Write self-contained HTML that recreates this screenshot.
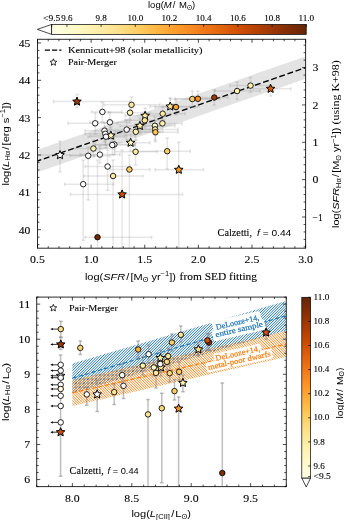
<!DOCTYPE html>
<html><head><meta charset="utf-8"><title>figure</title>
<style>html,body{margin:0;padding:0;background:#fff;} svg{display:block;will-change:transform;}</style>
</head><body>
<svg width="344" height="520" viewBox="0 0 344 520">
<defs>
<linearGradient id="cbh" x1="0" y1="0" x2="1" y2="0"><stop offset="0.000" stop-color="#ffffe5"/><stop offset="0.050" stop-color="#fffcd6"/><stop offset="0.100" stop-color="#fff9c5"/><stop offset="0.150" stop-color="#fff3b4"/><stop offset="0.200" stop-color="#feeba2"/><stop offset="0.250" stop-color="#fee390"/><stop offset="0.300" stop-color="#fed778"/><stop offset="0.350" stop-color="#feca5d"/><stop offset="0.400" stop-color="#febb47"/><stop offset="0.450" stop-color="#feaa38"/><stop offset="0.500" stop-color="#fe9829"/><stop offset="0.550" stop-color="#f78921"/><stop offset="0.600" stop-color="#f07818"/><stop offset="0.650" stop-color="#e56910"/><stop offset="0.700" stop-color="#d85a09"/><stop offset="0.750" stop-color="#cb4b02"/><stop offset="0.800" stop-color="#b84203"/><stop offset="0.850" stop-color="#a33904"/><stop offset="0.900" stop-color="#8e3104"/><stop offset="0.950" stop-color="#792b05"/><stop offset="1.000" stop-color="#662506"/></linearGradient>
<linearGradient id="cbv" x1="0" y1="1" x2="0" y2="0"><stop offset="0.000" stop-color="#ffffe5"/><stop offset="0.050" stop-color="#fffcd6"/><stop offset="0.100" stop-color="#fff9c5"/><stop offset="0.150" stop-color="#fff3b4"/><stop offset="0.200" stop-color="#feeba2"/><stop offset="0.250" stop-color="#fee390"/><stop offset="0.300" stop-color="#fed778"/><stop offset="0.350" stop-color="#feca5d"/><stop offset="0.400" stop-color="#febb47"/><stop offset="0.450" stop-color="#feaa38"/><stop offset="0.500" stop-color="#fe9829"/><stop offset="0.550" stop-color="#f78921"/><stop offset="0.600" stop-color="#f07818"/><stop offset="0.650" stop-color="#e56910"/><stop offset="0.700" stop-color="#d85a09"/><stop offset="0.750" stop-color="#cb4b02"/><stop offset="0.800" stop-color="#b84203"/><stop offset="0.850" stop-color="#a33904"/><stop offset="0.900" stop-color="#8e3104"/><stop offset="0.950" stop-color="#792b05"/><stop offset="1.000" stop-color="#662506"/></linearGradient>
<pattern id="hb" patternUnits="userSpaceOnUse" width="1.45" height="1.45" patternTransform="rotate(45)"><rect x="0" y="0" width="0.6" height="1.45" fill="#1f77b4"/></pattern>
<pattern id="ho" patternUnits="userSpaceOnUse" width="1.45" height="1.45" patternTransform="rotate(45)"><rect x="0" y="0" width="0.6" height="1.45" fill="#ff7f0e"/></pattern>
<clipPath id="ctop"><rect x="37.5" y="39.3" width="268.1" height="208.89999999999998"/></clipPath>
<clipPath id="cbot"><rect x="36.7" y="297.1" width="249.60000000000002" height="189.5"/></clipPath>
</defs>
<rect width="344" height="520" fill="#fff"/>
<path d="M51.7,24.4 L51.7,34.4 L37.3,29.4Z" fill="#fff" stroke="#000" stroke-width="0.7"/>
<rect x="51.7" y="24.4" width="254.5" height="10.0" fill="url(#cbh)" stroke="#000" stroke-width="0.7"/>
<line x1="51.70" y1="24.40" x2="51.70" y2="26.90" stroke="#000" stroke-width="0.7" />
<text x="51.70" y="21.00" font-size="7.8" font-family='"Liberation Serif", serif' text-anchor="middle" fill="#000" stroke="#000" stroke-width="0.1" textLength="17.24" lengthAdjust="spacingAndGlyphs" >&lt;9.5</text>
<line x1="66.90" y1="24.40" x2="66.90" y2="26.90" stroke="#000" stroke-width="0.7" />
<text x="66.90" y="21.00" font-size="7.8" font-family='"Liberation Serif", serif' text-anchor="middle" fill="#000" stroke="#000" stroke-width="0.1" textLength="11.29" lengthAdjust="spacingAndGlyphs" >9.6</text>
<line x1="101.10" y1="24.40" x2="101.10" y2="26.90" stroke="#000" stroke-width="0.7" />
<text x="101.10" y="21.00" font-size="7.8" font-family='"Liberation Serif", serif' text-anchor="middle" fill="#000" stroke="#000" stroke-width="0.1" textLength="11.29" lengthAdjust="spacingAndGlyphs" >9.8</text>
<line x1="135.30" y1="24.40" x2="135.30" y2="26.90" stroke="#000" stroke-width="0.7" />
<text x="135.30" y="21.00" font-size="7.8" font-family='"Liberation Serif", serif' text-anchor="middle" fill="#000" stroke="#000" stroke-width="0.1" textLength="15.8" lengthAdjust="spacingAndGlyphs" >10.0</text>
<line x1="169.50" y1="24.40" x2="169.50" y2="26.90" stroke="#000" stroke-width="0.7" />
<text x="169.50" y="21.00" font-size="7.8" font-family='"Liberation Serif", serif' text-anchor="middle" fill="#000" stroke="#000" stroke-width="0.1" textLength="15.8" lengthAdjust="spacingAndGlyphs" >10.2</text>
<line x1="203.70" y1="24.40" x2="203.70" y2="26.90" stroke="#000" stroke-width="0.7" />
<text x="203.70" y="21.00" font-size="7.8" font-family='"Liberation Serif", serif' text-anchor="middle" fill="#000" stroke="#000" stroke-width="0.1" textLength="15.8" lengthAdjust="spacingAndGlyphs" >10.4</text>
<line x1="237.90" y1="24.40" x2="237.90" y2="26.90" stroke="#000" stroke-width="0.7" />
<text x="237.90" y="21.00" font-size="7.8" font-family='"Liberation Serif", serif' text-anchor="middle" fill="#000" stroke="#000" stroke-width="0.1" textLength="15.8" lengthAdjust="spacingAndGlyphs" >10.6</text>
<line x1="272.10" y1="24.40" x2="272.10" y2="26.90" stroke="#000" stroke-width="0.7" />
<text x="272.10" y="21.00" font-size="7.8" font-family='"Liberation Serif", serif' text-anchor="middle" fill="#000" stroke="#000" stroke-width="0.1" textLength="15.8" lengthAdjust="spacingAndGlyphs" >10.8</text>
<line x1="306.30" y1="24.40" x2="306.30" y2="26.90" stroke="#000" stroke-width="0.7" />
<text x="306.30" y="21.00" font-size="7.8" font-family='"Liberation Serif", serif' text-anchor="middle" fill="#000" stroke="#000" stroke-width="0.1" textLength="15.8" lengthAdjust="spacingAndGlyphs" >11.0</text>
<text x="171.6" y="7.9" font-size="9.4" font-family='"Liberation Sans", sans-serif' text-anchor="middle" textLength="47.2" lengthAdjust="spacingAndGlyphs"><tspan>log(</tspan><tspan font-style="italic">M</tspan><tspan dx="1.0">/</tspan><tspan dx="1.0"> M</tspan><tspan dy="1.90" font-size="6.4">ʘ</tspan><tspan dy="-1.90">)</tspan></text>
<g clip-path="url(#ctop)">
<path d="M37.50,149.77 L305.60,56.40 L305.60,78.81 L37.50,172.18Z" fill="#e3e3e3"/>
<line x1="37.50" y1="160.98" x2="305.60" y2="67.60" stroke="#000" stroke-width="1.4" stroke-dasharray="5.9,2.7" stroke-dashoffset="1.93"/>
<line x1="53.50" y1="101.60" x2="130.00" y2="101.60" stroke="#808080" stroke-opacity="0.2" stroke-width="1.5"/>
<line x1="53.50" y1="99.80" x2="53.50" y2="103.40" stroke="#808080" stroke-opacity="0.2" stroke-width="1.5"/>
<line x1="130.00" y1="99.80" x2="130.00" y2="103.40" stroke="#808080" stroke-opacity="0.2" stroke-width="1.5"/>
<line x1="77.00" y1="94.40" x2="77.00" y2="107.40" stroke="#808080" stroke-opacity="0.2" stroke-width="1.5"/>
<line x1="75.20" y1="94.40" x2="78.80" y2="94.40" stroke="#808080" stroke-opacity="0.2" stroke-width="1.5"/>
<line x1="75.20" y1="107.40" x2="78.80" y2="107.40" stroke="#808080" stroke-opacity="0.2" stroke-width="1.5"/>
<line x1="91.50" y1="111.90" x2="122.00" y2="111.90" stroke="#808080" stroke-opacity="0.2" stroke-width="1.5"/>
<line x1="91.50" y1="110.10" x2="91.50" y2="113.70" stroke="#808080" stroke-opacity="0.2" stroke-width="1.5"/>
<line x1="122.00" y1="110.10" x2="122.00" y2="113.70" stroke="#808080" stroke-opacity="0.2" stroke-width="1.5"/>
<line x1="102.40" y1="102.00" x2="102.40" y2="122.00" stroke="#808080" stroke-opacity="0.2" stroke-width="1.5"/>
<line x1="100.60" y1="102.00" x2="104.20" y2="102.00" stroke="#808080" stroke-opacity="0.2" stroke-width="1.5"/>
<line x1="100.60" y1="122.00" x2="104.20" y2="122.00" stroke="#808080" stroke-opacity="0.2" stroke-width="1.5"/>
<line x1="103.80" y1="104.80" x2="160.00" y2="104.80" stroke="#808080" stroke-opacity="0.2" stroke-width="1.5"/>
<line x1="103.80" y1="103.00" x2="103.80" y2="106.60" stroke="#808080" stroke-opacity="0.2" stroke-width="1.5"/>
<line x1="160.00" y1="103.00" x2="160.00" y2="106.60" stroke="#808080" stroke-opacity="0.2" stroke-width="1.5"/>
<line x1="131.50" y1="97.00" x2="131.50" y2="112.00" stroke="#808080" stroke-opacity="0.2" stroke-width="1.5"/>
<line x1="129.70" y1="97.00" x2="133.30" y2="97.00" stroke="#808080" stroke-opacity="0.2" stroke-width="1.5"/>
<line x1="129.70" y1="112.00" x2="133.30" y2="112.00" stroke="#808080" stroke-opacity="0.2" stroke-width="1.5"/>
<line x1="108.00" y1="112.70" x2="150.00" y2="112.70" stroke="#808080" stroke-opacity="0.2" stroke-width="1.5"/>
<line x1="108.00" y1="110.90" x2="108.00" y2="114.50" stroke="#808080" stroke-opacity="0.2" stroke-width="1.5"/>
<line x1="150.00" y1="110.90" x2="150.00" y2="114.50" stroke="#808080" stroke-opacity="0.2" stroke-width="1.5"/>
<line x1="130.00" y1="105.00" x2="130.00" y2="120.00" stroke="#808080" stroke-opacity="0.2" stroke-width="1.5"/>
<line x1="128.20" y1="105.00" x2="131.80" y2="105.00" stroke="#808080" stroke-opacity="0.2" stroke-width="1.5"/>
<line x1="128.20" y1="120.00" x2="131.80" y2="120.00" stroke="#808080" stroke-opacity="0.2" stroke-width="1.5"/>
<line x1="68.00" y1="123.30" x2="118.00" y2="123.30" stroke="#808080" stroke-opacity="0.2" stroke-width="1.5"/>
<line x1="68.00" y1="121.50" x2="68.00" y2="125.10" stroke="#808080" stroke-opacity="0.2" stroke-width="1.5"/>
<line x1="118.00" y1="121.50" x2="118.00" y2="125.10" stroke="#808080" stroke-opacity="0.2" stroke-width="1.5"/>
<line x1="95.20" y1="113.00" x2="95.20" y2="134.00" stroke="#808080" stroke-opacity="0.2" stroke-width="1.5"/>
<line x1="93.40" y1="113.00" x2="97.00" y2="113.00" stroke="#808080" stroke-opacity="0.2" stroke-width="1.5"/>
<line x1="93.40" y1="134.00" x2="97.00" y2="134.00" stroke="#808080" stroke-opacity="0.2" stroke-width="1.5"/>
<line x1="90.00" y1="122.30" x2="130.00" y2="122.30" stroke="#808080" stroke-opacity="0.2" stroke-width="1.5"/>
<line x1="90.00" y1="120.50" x2="90.00" y2="124.10" stroke="#808080" stroke-opacity="0.2" stroke-width="1.5"/>
<line x1="130.00" y1="120.50" x2="130.00" y2="124.10" stroke="#808080" stroke-opacity="0.2" stroke-width="1.5"/>
<line x1="109.90" y1="112.00" x2="109.90" y2="133.00" stroke="#808080" stroke-opacity="0.2" stroke-width="1.5"/>
<line x1="108.10" y1="112.00" x2="111.70" y2="112.00" stroke="#808080" stroke-opacity="0.2" stroke-width="1.5"/>
<line x1="108.10" y1="133.00" x2="111.70" y2="133.00" stroke="#808080" stroke-opacity="0.2" stroke-width="1.5"/>
<line x1="105.00" y1="129.60" x2="150.00" y2="129.60" stroke="#808080" stroke-opacity="0.2" stroke-width="1.5"/>
<line x1="105.00" y1="127.80" x2="105.00" y2="131.40" stroke="#808080" stroke-opacity="0.2" stroke-width="1.5"/>
<line x1="150.00" y1="127.80" x2="150.00" y2="131.40" stroke="#808080" stroke-opacity="0.2" stroke-width="1.5"/>
<line x1="126.70" y1="120.00" x2="126.70" y2="140.00" stroke="#808080" stroke-opacity="0.2" stroke-width="1.5"/>
<line x1="124.90" y1="120.00" x2="128.50" y2="120.00" stroke="#808080" stroke-opacity="0.2" stroke-width="1.5"/>
<line x1="124.90" y1="140.00" x2="128.50" y2="140.00" stroke="#808080" stroke-opacity="0.2" stroke-width="1.5"/>
<line x1="125.00" y1="120.30" x2="165.00" y2="120.30" stroke="#808080" stroke-opacity="0.2" stroke-width="1.5"/>
<line x1="125.00" y1="118.50" x2="125.00" y2="122.10" stroke="#808080" stroke-opacity="0.2" stroke-width="1.5"/>
<line x1="165.00" y1="118.50" x2="165.00" y2="122.10" stroke="#808080" stroke-opacity="0.2" stroke-width="1.5"/>
<line x1="144.80" y1="112.00" x2="144.80" y2="128.00" stroke="#808080" stroke-opacity="0.2" stroke-width="1.5"/>
<line x1="143.00" y1="112.00" x2="146.60" y2="112.00" stroke="#808080" stroke-opacity="0.2" stroke-width="1.5"/>
<line x1="143.00" y1="128.00" x2="146.60" y2="128.00" stroke="#808080" stroke-opacity="0.2" stroke-width="1.5"/>
<line x1="125.00" y1="115.80" x2="165.00" y2="115.80" stroke="#808080" stroke-opacity="0.2" stroke-width="1.5"/>
<line x1="125.00" y1="114.00" x2="125.00" y2="117.60" stroke="#808080" stroke-opacity="0.2" stroke-width="1.5"/>
<line x1="165.00" y1="114.00" x2="165.00" y2="117.60" stroke="#808080" stroke-opacity="0.2" stroke-width="1.5"/>
<line x1="145.10" y1="108.00" x2="145.10" y2="124.00" stroke="#808080" stroke-opacity="0.2" stroke-width="1.5"/>
<line x1="143.30" y1="108.00" x2="146.90" y2="108.00" stroke="#808080" stroke-opacity="0.2" stroke-width="1.5"/>
<line x1="143.30" y1="124.00" x2="146.90" y2="124.00" stroke="#808080" stroke-opacity="0.2" stroke-width="1.5"/>
<line x1="115.00" y1="131.80" x2="160.00" y2="131.80" stroke="#808080" stroke-opacity="0.2" stroke-width="1.5"/>
<line x1="115.00" y1="130.00" x2="115.00" y2="133.60" stroke="#808080" stroke-opacity="0.2" stroke-width="1.5"/>
<line x1="160.00" y1="130.00" x2="160.00" y2="133.60" stroke="#808080" stroke-opacity="0.2" stroke-width="1.5"/>
<line x1="135.80" y1="124.00" x2="135.80" y2="140.00" stroke="#808080" stroke-opacity="0.2" stroke-width="1.5"/>
<line x1="134.00" y1="124.00" x2="137.60" y2="124.00" stroke="#808080" stroke-opacity="0.2" stroke-width="1.5"/>
<line x1="134.00" y1="140.00" x2="137.60" y2="140.00" stroke="#808080" stroke-opacity="0.2" stroke-width="1.5"/>
<line x1="120.00" y1="125.90" x2="160.00" y2="125.90" stroke="#808080" stroke-opacity="0.2" stroke-width="1.5"/>
<line x1="120.00" y1="124.10" x2="120.00" y2="127.70" stroke="#808080" stroke-opacity="0.2" stroke-width="1.5"/>
<line x1="160.00" y1="124.10" x2="160.00" y2="127.70" stroke="#808080" stroke-opacity="0.2" stroke-width="1.5"/>
<line x1="139.90" y1="118.00" x2="139.90" y2="134.00" stroke="#808080" stroke-opacity="0.2" stroke-width="1.5"/>
<line x1="138.10" y1="118.00" x2="141.70" y2="118.00" stroke="#808080" stroke-opacity="0.2" stroke-width="1.5"/>
<line x1="138.10" y1="134.00" x2="141.70" y2="134.00" stroke="#808080" stroke-opacity="0.2" stroke-width="1.5"/>
<line x1="85.00" y1="130.70" x2="125.00" y2="130.70" stroke="#808080" stroke-opacity="0.2" stroke-width="1.5"/>
<line x1="85.00" y1="128.90" x2="85.00" y2="132.50" stroke="#808080" stroke-opacity="0.2" stroke-width="1.5"/>
<line x1="125.00" y1="128.90" x2="125.00" y2="132.50" stroke="#808080" stroke-opacity="0.2" stroke-width="1.5"/>
<line x1="104.50" y1="123.00" x2="104.50" y2="142.00" stroke="#808080" stroke-opacity="0.2" stroke-width="1.5"/>
<line x1="102.70" y1="123.00" x2="106.30" y2="123.00" stroke="#808080" stroke-opacity="0.2" stroke-width="1.5"/>
<line x1="102.70" y1="142.00" x2="106.30" y2="142.00" stroke="#808080" stroke-opacity="0.2" stroke-width="1.5"/>
<line x1="85.00" y1="133.80" x2="125.00" y2="133.80" stroke="#808080" stroke-opacity="0.2" stroke-width="1.5"/>
<line x1="85.00" y1="132.00" x2="85.00" y2="135.60" stroke="#808080" stroke-opacity="0.2" stroke-width="1.5"/>
<line x1="125.00" y1="132.00" x2="125.00" y2="135.60" stroke="#808080" stroke-opacity="0.2" stroke-width="1.5"/>
<line x1="105.30" y1="126.00" x2="105.30" y2="145.00" stroke="#808080" stroke-opacity="0.2" stroke-width="1.5"/>
<line x1="103.50" y1="126.00" x2="107.10" y2="126.00" stroke="#808080" stroke-opacity="0.2" stroke-width="1.5"/>
<line x1="103.50" y1="145.00" x2="107.10" y2="145.00" stroke="#808080" stroke-opacity="0.2" stroke-width="1.5"/>
<line x1="88.00" y1="136.70" x2="125.00" y2="136.70" stroke="#808080" stroke-opacity="0.2" stroke-width="1.5"/>
<line x1="88.00" y1="134.90" x2="88.00" y2="138.50" stroke="#808080" stroke-opacity="0.2" stroke-width="1.5"/>
<line x1="125.00" y1="134.90" x2="125.00" y2="138.50" stroke="#808080" stroke-opacity="0.2" stroke-width="1.5"/>
<line x1="106.00" y1="129.00" x2="106.00" y2="148.00" stroke="#808080" stroke-opacity="0.2" stroke-width="1.5"/>
<line x1="104.20" y1="129.00" x2="107.80" y2="129.00" stroke="#808080" stroke-opacity="0.2" stroke-width="1.5"/>
<line x1="104.20" y1="148.00" x2="107.80" y2="148.00" stroke="#808080" stroke-opacity="0.2" stroke-width="1.5"/>
<line x1="90.00" y1="135.60" x2="135.00" y2="135.60" stroke="#808080" stroke-opacity="0.2" stroke-width="1.5"/>
<line x1="90.00" y1="133.80" x2="90.00" y2="137.40" stroke="#808080" stroke-opacity="0.2" stroke-width="1.5"/>
<line x1="135.00" y1="133.80" x2="135.00" y2="137.40" stroke="#808080" stroke-opacity="0.2" stroke-width="1.5"/>
<line x1="110.90" y1="127.00" x2="110.90" y2="143.00" stroke="#808080" stroke-opacity="0.2" stroke-width="1.5"/>
<line x1="109.10" y1="127.00" x2="112.70" y2="127.00" stroke="#808080" stroke-opacity="0.2" stroke-width="1.5"/>
<line x1="109.10" y1="143.00" x2="112.70" y2="143.00" stroke="#808080" stroke-opacity="0.2" stroke-width="1.5"/>
<line x1="95.00" y1="144.50" x2="135.00" y2="144.50" stroke="#808080" stroke-opacity="0.2" stroke-width="1.5"/>
<line x1="95.00" y1="142.70" x2="95.00" y2="146.30" stroke="#808080" stroke-opacity="0.2" stroke-width="1.5"/>
<line x1="135.00" y1="142.70" x2="135.00" y2="146.30" stroke="#808080" stroke-opacity="0.2" stroke-width="1.5"/>
<line x1="114.30" y1="136.00" x2="114.30" y2="155.00" stroke="#808080" stroke-opacity="0.2" stroke-width="1.5"/>
<line x1="112.50" y1="136.00" x2="116.10" y2="136.00" stroke="#808080" stroke-opacity="0.2" stroke-width="1.5"/>
<line x1="112.50" y1="155.00" x2="116.10" y2="155.00" stroke="#808080" stroke-opacity="0.2" stroke-width="1.5"/>
<line x1="95.00" y1="145.00" x2="135.00" y2="145.00" stroke="#808080" stroke-opacity="0.2" stroke-width="1.5"/>
<line x1="95.00" y1="143.20" x2="95.00" y2="146.80" stroke="#808080" stroke-opacity="0.2" stroke-width="1.5"/>
<line x1="135.00" y1="143.20" x2="135.00" y2="146.80" stroke="#808080" stroke-opacity="0.2" stroke-width="1.5"/>
<line x1="112.30" y1="136.00" x2="112.30" y2="155.00" stroke="#808080" stroke-opacity="0.2" stroke-width="1.5"/>
<line x1="110.50" y1="136.00" x2="114.10" y2="136.00" stroke="#808080" stroke-opacity="0.2" stroke-width="1.5"/>
<line x1="110.50" y1="155.00" x2="114.10" y2="155.00" stroke="#808080" stroke-opacity="0.2" stroke-width="1.5"/>
<line x1="110.00" y1="142.80" x2="150.00" y2="142.80" stroke="#808080" stroke-opacity="0.2" stroke-width="1.5"/>
<line x1="110.00" y1="141.00" x2="110.00" y2="144.60" stroke="#808080" stroke-opacity="0.2" stroke-width="1.5"/>
<line x1="150.00" y1="141.00" x2="150.00" y2="144.60" stroke="#808080" stroke-opacity="0.2" stroke-width="1.5"/>
<line x1="130.60" y1="134.00" x2="130.60" y2="151.00" stroke="#808080" stroke-opacity="0.2" stroke-width="1.5"/>
<line x1="128.80" y1="134.00" x2="132.40" y2="134.00" stroke="#808080" stroke-opacity="0.2" stroke-width="1.5"/>
<line x1="128.80" y1="151.00" x2="132.40" y2="151.00" stroke="#808080" stroke-opacity="0.2" stroke-width="1.5"/>
<line x1="75.00" y1="148.50" x2="115.00" y2="148.50" stroke="#808080" stroke-opacity="0.2" stroke-width="1.5"/>
<line x1="75.00" y1="146.70" x2="75.00" y2="150.30" stroke="#808080" stroke-opacity="0.2" stroke-width="1.5"/>
<line x1="115.00" y1="146.70" x2="115.00" y2="150.30" stroke="#808080" stroke-opacity="0.2" stroke-width="1.5"/>
<line x1="93.40" y1="140.00" x2="93.40" y2="157.00" stroke="#808080" stroke-opacity="0.2" stroke-width="1.5"/>
<line x1="91.60" y1="140.00" x2="95.20" y2="140.00" stroke="#808080" stroke-opacity="0.2" stroke-width="1.5"/>
<line x1="91.60" y1="157.00" x2="95.20" y2="157.00" stroke="#808080" stroke-opacity="0.2" stroke-width="1.5"/>
<line x1="20.00" y1="155.10" x2="95.00" y2="155.10" stroke="#808080" stroke-opacity="0.2" stroke-width="1.5"/>
<line x1="20.00" y1="153.30" x2="20.00" y2="156.90" stroke="#808080" stroke-opacity="0.2" stroke-width="1.5"/>
<line x1="95.00" y1="153.30" x2="95.00" y2="156.90" stroke="#808080" stroke-opacity="0.2" stroke-width="1.5"/>
<line x1="60.00" y1="141.20" x2="60.00" y2="171.90" stroke="#808080" stroke-opacity="0.2" stroke-width="1.5"/>
<line x1="58.20" y1="141.20" x2="61.80" y2="141.20" stroke="#808080" stroke-opacity="0.2" stroke-width="1.5"/>
<line x1="58.20" y1="171.90" x2="61.80" y2="171.90" stroke="#808080" stroke-opacity="0.2" stroke-width="1.5"/>
<line x1="70.00" y1="155.80" x2="110.00" y2="155.80" stroke="#808080" stroke-opacity="0.2" stroke-width="1.5"/>
<line x1="70.00" y1="154.00" x2="70.00" y2="157.60" stroke="#808080" stroke-opacity="0.2" stroke-width="1.5"/>
<line x1="110.00" y1="154.00" x2="110.00" y2="157.60" stroke="#808080" stroke-opacity="0.2" stroke-width="1.5"/>
<line x1="88.20" y1="147.00" x2="88.20" y2="200.00" stroke="#808080" stroke-opacity="0.2" stroke-width="1.5"/>
<line x1="86.40" y1="147.00" x2="90.00" y2="147.00" stroke="#808080" stroke-opacity="0.2" stroke-width="1.5"/>
<line x1="86.40" y1="200.00" x2="90.00" y2="200.00" stroke="#808080" stroke-opacity="0.2" stroke-width="1.5"/>
<line x1="80.00" y1="154.60" x2="120.00" y2="154.60" stroke="#808080" stroke-opacity="0.2" stroke-width="1.5"/>
<line x1="80.00" y1="152.80" x2="80.00" y2="156.40" stroke="#808080" stroke-opacity="0.2" stroke-width="1.5"/>
<line x1="120.00" y1="152.80" x2="120.00" y2="156.40" stroke="#808080" stroke-opacity="0.2" stroke-width="1.5"/>
<line x1="99.90" y1="146.00" x2="99.90" y2="163.00" stroke="#808080" stroke-opacity="0.2" stroke-width="1.5"/>
<line x1="98.10" y1="146.00" x2="101.70" y2="146.00" stroke="#808080" stroke-opacity="0.2" stroke-width="1.5"/>
<line x1="98.10" y1="163.00" x2="101.70" y2="163.00" stroke="#808080" stroke-opacity="0.2" stroke-width="1.5"/>
<line x1="115.00" y1="151.80" x2="157.00" y2="151.80" stroke="#808080" stroke-opacity="0.2" stroke-width="1.5"/>
<line x1="115.00" y1="150.00" x2="115.00" y2="153.60" stroke="#808080" stroke-opacity="0.2" stroke-width="1.5"/>
<line x1="157.00" y1="150.00" x2="157.00" y2="153.60" stroke="#808080" stroke-opacity="0.2" stroke-width="1.5"/>
<line x1="135.60" y1="140.00" x2="135.60" y2="165.00" stroke="#808080" stroke-opacity="0.2" stroke-width="1.5"/>
<line x1="133.80" y1="140.00" x2="137.40" y2="140.00" stroke="#808080" stroke-opacity="0.2" stroke-width="1.5"/>
<line x1="133.80" y1="165.00" x2="137.40" y2="165.00" stroke="#808080" stroke-opacity="0.2" stroke-width="1.5"/>
<line x1="85.00" y1="166.50" x2="130.00" y2="166.50" stroke="#808080" stroke-opacity="0.2" stroke-width="1.5"/>
<line x1="85.00" y1="164.70" x2="85.00" y2="168.30" stroke="#808080" stroke-opacity="0.2" stroke-width="1.5"/>
<line x1="130.00" y1="164.70" x2="130.00" y2="168.30" stroke="#808080" stroke-opacity="0.2" stroke-width="1.5"/>
<line x1="107.60" y1="150.00" x2="107.60" y2="190.20" stroke="#808080" stroke-opacity="0.2" stroke-width="1.5"/>
<line x1="105.80" y1="150.00" x2="109.40" y2="150.00" stroke="#808080" stroke-opacity="0.2" stroke-width="1.5"/>
<line x1="105.80" y1="190.20" x2="109.40" y2="190.20" stroke="#808080" stroke-opacity="0.2" stroke-width="1.5"/>
<line x1="84.00" y1="176.00" x2="143.00" y2="176.00" stroke="#808080" stroke-opacity="0.2" stroke-width="1.5"/>
<line x1="84.00" y1="174.20" x2="84.00" y2="177.80" stroke="#808080" stroke-opacity="0.2" stroke-width="1.5"/>
<line x1="143.00" y1="174.20" x2="143.00" y2="177.80" stroke="#808080" stroke-opacity="0.2" stroke-width="1.5"/>
<line x1="113.10" y1="160.00" x2="113.10" y2="250.00" stroke="#808080" stroke-opacity="0.2" stroke-width="1.5"/>
<line x1="111.30" y1="160.00" x2="114.90" y2="160.00" stroke="#808080" stroke-opacity="0.2" stroke-width="1.5"/>
<line x1="111.30" y1="250.00" x2="114.90" y2="250.00" stroke="#808080" stroke-opacity="0.2" stroke-width="1.5"/>
<line x1="64.70" y1="184.20" x2="113.50" y2="184.20" stroke="#808080" stroke-opacity="0.2" stroke-width="1.5"/>
<line x1="64.70" y1="182.40" x2="64.70" y2="186.00" stroke="#808080" stroke-opacity="0.2" stroke-width="1.5"/>
<line x1="113.50" y1="182.40" x2="113.50" y2="186.00" stroke="#808080" stroke-opacity="0.2" stroke-width="1.5"/>
<line x1="83.20" y1="160.00" x2="83.20" y2="240.20" stroke="#808080" stroke-opacity="0.2" stroke-width="1.5"/>
<line x1="81.40" y1="160.00" x2="85.00" y2="160.00" stroke="#808080" stroke-opacity="0.2" stroke-width="1.5"/>
<line x1="81.40" y1="240.20" x2="85.00" y2="240.20" stroke="#808080" stroke-opacity="0.2" stroke-width="1.5"/>
<line x1="110.00" y1="169.50" x2="150.00" y2="169.50" stroke="#808080" stroke-opacity="0.2" stroke-width="1.5"/>
<line x1="110.00" y1="167.70" x2="110.00" y2="171.30" stroke="#808080" stroke-opacity="0.2" stroke-width="1.5"/>
<line x1="150.00" y1="167.70" x2="150.00" y2="171.30" stroke="#808080" stroke-opacity="0.2" stroke-width="1.5"/>
<line x1="129.40" y1="155.00" x2="129.40" y2="250.00" stroke="#808080" stroke-opacity="0.2" stroke-width="1.5"/>
<line x1="127.60" y1="155.00" x2="131.20" y2="155.00" stroke="#808080" stroke-opacity="0.2" stroke-width="1.5"/>
<line x1="127.60" y1="250.00" x2="131.20" y2="250.00" stroke="#808080" stroke-opacity="0.2" stroke-width="1.5"/>
<line x1="70.40" y1="194.40" x2="182.50" y2="194.40" stroke="#808080" stroke-opacity="0.2" stroke-width="1.5"/>
<line x1="70.40" y1="192.60" x2="70.40" y2="196.20" stroke="#808080" stroke-opacity="0.2" stroke-width="1.5"/>
<line x1="182.50" y1="192.60" x2="182.50" y2="196.20" stroke="#808080" stroke-opacity="0.2" stroke-width="1.5"/>
<line x1="122.10" y1="150.00" x2="122.10" y2="250.00" stroke="#808080" stroke-opacity="0.2" stroke-width="1.5"/>
<line x1="120.30" y1="150.00" x2="123.90" y2="150.00" stroke="#808080" stroke-opacity="0.2" stroke-width="1.5"/>
<line x1="120.30" y1="250.00" x2="123.90" y2="250.00" stroke="#808080" stroke-opacity="0.2" stroke-width="1.5"/>
<line x1="85.00" y1="237.20" x2="151.60" y2="237.20" stroke="#808080" stroke-opacity="0.2" stroke-width="1.5"/>
<line x1="85.00" y1="235.40" x2="85.00" y2="239.00" stroke="#808080" stroke-opacity="0.2" stroke-width="1.5"/>
<line x1="151.60" y1="235.40" x2="151.60" y2="239.00" stroke="#808080" stroke-opacity="0.2" stroke-width="1.5"/>
<line x1="97.50" y1="160.00" x2="97.50" y2="250.00" stroke="#808080" stroke-opacity="0.2" stroke-width="1.5"/>
<line x1="95.70" y1="160.00" x2="99.30" y2="160.00" stroke="#808080" stroke-opacity="0.2" stroke-width="1.5"/>
<line x1="95.70" y1="250.00" x2="99.30" y2="250.00" stroke="#808080" stroke-opacity="0.2" stroke-width="1.5"/>
<line x1="135.00" y1="151.20" x2="190.20" y2="151.20" stroke="#808080" stroke-opacity="0.2" stroke-width="1.5"/>
<line x1="135.00" y1="149.40" x2="135.00" y2="153.00" stroke="#808080" stroke-opacity="0.2" stroke-width="1.5"/>
<line x1="190.20" y1="149.40" x2="190.20" y2="153.00" stroke="#808080" stroke-opacity="0.2" stroke-width="1.5"/>
<line x1="167.20" y1="138.00" x2="167.20" y2="169.00" stroke="#808080" stroke-opacity="0.2" stroke-width="1.5"/>
<line x1="165.40" y1="138.00" x2="169.00" y2="138.00" stroke="#808080" stroke-opacity="0.2" stroke-width="1.5"/>
<line x1="165.40" y1="169.00" x2="169.00" y2="169.00" stroke="#808080" stroke-opacity="0.2" stroke-width="1.5"/>
<line x1="155.00" y1="169.80" x2="203.50" y2="169.80" stroke="#808080" stroke-opacity="0.2" stroke-width="1.5"/>
<line x1="155.00" y1="168.00" x2="155.00" y2="171.60" stroke="#808080" stroke-opacity="0.2" stroke-width="1.5"/>
<line x1="203.50" y1="168.00" x2="203.50" y2="171.60" stroke="#808080" stroke-opacity="0.2" stroke-width="1.5"/>
<line x1="178.80" y1="142.20" x2="178.80" y2="250.00" stroke="#808080" stroke-opacity="0.2" stroke-width="1.5"/>
<line x1="177.00" y1="142.20" x2="180.60" y2="142.20" stroke="#808080" stroke-opacity="0.2" stroke-width="1.5"/>
<line x1="177.00" y1="250.00" x2="180.60" y2="250.00" stroke="#808080" stroke-opacity="0.2" stroke-width="1.5"/>
<line x1="135.00" y1="125.80" x2="175.00" y2="125.80" stroke="#808080" stroke-opacity="0.2" stroke-width="1.5"/>
<line x1="135.00" y1="124.00" x2="135.00" y2="127.60" stroke="#808080" stroke-opacity="0.2" stroke-width="1.5"/>
<line x1="175.00" y1="124.00" x2="175.00" y2="127.60" stroke="#808080" stroke-opacity="0.2" stroke-width="1.5"/>
<line x1="154.90" y1="117.00" x2="154.90" y2="135.00" stroke="#808080" stroke-opacity="0.2" stroke-width="1.5"/>
<line x1="153.10" y1="117.00" x2="156.70" y2="117.00" stroke="#808080" stroke-opacity="0.2" stroke-width="1.5"/>
<line x1="153.10" y1="135.00" x2="156.70" y2="135.00" stroke="#808080" stroke-opacity="0.2" stroke-width="1.5"/>
<line x1="135.00" y1="129.40" x2="178.00" y2="129.40" stroke="#808080" stroke-opacity="0.2" stroke-width="1.5"/>
<line x1="135.00" y1="127.60" x2="135.00" y2="131.20" stroke="#808080" stroke-opacity="0.2" stroke-width="1.5"/>
<line x1="178.00" y1="127.60" x2="178.00" y2="131.20" stroke="#808080" stroke-opacity="0.2" stroke-width="1.5"/>
<line x1="155.10" y1="121.00" x2="155.10" y2="140.00" stroke="#808080" stroke-opacity="0.2" stroke-width="1.5"/>
<line x1="153.30" y1="121.00" x2="156.90" y2="121.00" stroke="#808080" stroke-opacity="0.2" stroke-width="1.5"/>
<line x1="153.30" y1="140.00" x2="156.90" y2="140.00" stroke="#808080" stroke-opacity="0.2" stroke-width="1.5"/>
<line x1="135.00" y1="132.20" x2="178.00" y2="132.20" stroke="#808080" stroke-opacity="0.2" stroke-width="1.5"/>
<line x1="135.00" y1="130.40" x2="135.00" y2="134.00" stroke="#808080" stroke-opacity="0.2" stroke-width="1.5"/>
<line x1="178.00" y1="130.40" x2="178.00" y2="134.00" stroke="#808080" stroke-opacity="0.2" stroke-width="1.5"/>
<line x1="155.40" y1="124.00" x2="155.40" y2="142.00" stroke="#808080" stroke-opacity="0.2" stroke-width="1.5"/>
<line x1="153.60" y1="124.00" x2="157.20" y2="124.00" stroke="#808080" stroke-opacity="0.2" stroke-width="1.5"/>
<line x1="153.60" y1="142.00" x2="157.20" y2="142.00" stroke="#808080" stroke-opacity="0.2" stroke-width="1.5"/>
<line x1="145.00" y1="113.70" x2="185.00" y2="113.70" stroke="#808080" stroke-opacity="0.2" stroke-width="1.5"/>
<line x1="145.00" y1="111.90" x2="145.00" y2="115.50" stroke="#808080" stroke-opacity="0.2" stroke-width="1.5"/>
<line x1="185.00" y1="111.90" x2="185.00" y2="115.50" stroke="#808080" stroke-opacity="0.2" stroke-width="1.5"/>
<line x1="162.70" y1="105.00" x2="162.70" y2="122.00" stroke="#808080" stroke-opacity="0.2" stroke-width="1.5"/>
<line x1="160.90" y1="105.00" x2="164.50" y2="105.00" stroke="#808080" stroke-opacity="0.2" stroke-width="1.5"/>
<line x1="160.90" y1="122.00" x2="164.50" y2="122.00" stroke="#808080" stroke-opacity="0.2" stroke-width="1.5"/>
<line x1="142.00" y1="123.40" x2="182.00" y2="123.40" stroke="#808080" stroke-opacity="0.2" stroke-width="1.5"/>
<line x1="142.00" y1="121.60" x2="142.00" y2="125.20" stroke="#808080" stroke-opacity="0.2" stroke-width="1.5"/>
<line x1="182.00" y1="121.60" x2="182.00" y2="125.20" stroke="#808080" stroke-opacity="0.2" stroke-width="1.5"/>
<line x1="162.40" y1="115.00" x2="162.40" y2="132.00" stroke="#808080" stroke-opacity="0.2" stroke-width="1.5"/>
<line x1="160.60" y1="115.00" x2="164.20" y2="115.00" stroke="#808080" stroke-opacity="0.2" stroke-width="1.5"/>
<line x1="160.60" y1="132.00" x2="164.20" y2="132.00" stroke="#808080" stroke-opacity="0.2" stroke-width="1.5"/>
<line x1="150.00" y1="106.50" x2="190.00" y2="106.50" stroke="#808080" stroke-opacity="0.2" stroke-width="1.5"/>
<line x1="150.00" y1="104.70" x2="150.00" y2="108.30" stroke="#808080" stroke-opacity="0.2" stroke-width="1.5"/>
<line x1="190.00" y1="104.70" x2="190.00" y2="108.30" stroke="#808080" stroke-opacity="0.2" stroke-width="1.5"/>
<line x1="170.20" y1="98.00" x2="170.20" y2="115.00" stroke="#808080" stroke-opacity="0.2" stroke-width="1.5"/>
<line x1="168.40" y1="98.00" x2="172.00" y2="98.00" stroke="#808080" stroke-opacity="0.2" stroke-width="1.5"/>
<line x1="168.40" y1="115.00" x2="172.00" y2="115.00" stroke="#808080" stroke-opacity="0.2" stroke-width="1.5"/>
<line x1="155.00" y1="107.10" x2="195.00" y2="107.10" stroke="#808080" stroke-opacity="0.2" stroke-width="1.5"/>
<line x1="155.00" y1="105.30" x2="155.00" y2="108.90" stroke="#808080" stroke-opacity="0.2" stroke-width="1.5"/>
<line x1="195.00" y1="105.30" x2="195.00" y2="108.90" stroke="#808080" stroke-opacity="0.2" stroke-width="1.5"/>
<line x1="176.00" y1="100.00" x2="176.00" y2="115.00" stroke="#808080" stroke-opacity="0.2" stroke-width="1.5"/>
<line x1="174.20" y1="100.00" x2="177.80" y2="100.00" stroke="#808080" stroke-opacity="0.2" stroke-width="1.5"/>
<line x1="174.20" y1="115.00" x2="177.80" y2="115.00" stroke="#808080" stroke-opacity="0.2" stroke-width="1.5"/>
<line x1="170.00" y1="99.00" x2="215.00" y2="99.00" stroke="#808080" stroke-opacity="0.2" stroke-width="1.5"/>
<line x1="170.00" y1="97.20" x2="170.00" y2="100.80" stroke="#808080" stroke-opacity="0.2" stroke-width="1.5"/>
<line x1="215.00" y1="97.20" x2="215.00" y2="100.80" stroke="#808080" stroke-opacity="0.2" stroke-width="1.5"/>
<line x1="192.30" y1="91.00" x2="192.30" y2="107.00" stroke="#808080" stroke-opacity="0.2" stroke-width="1.5"/>
<line x1="190.50" y1="91.00" x2="194.10" y2="91.00" stroke="#808080" stroke-opacity="0.2" stroke-width="1.5"/>
<line x1="190.50" y1="107.00" x2="194.10" y2="107.00" stroke="#808080" stroke-opacity="0.2" stroke-width="1.5"/>
<line x1="175.00" y1="98.80" x2="220.00" y2="98.80" stroke="#808080" stroke-opacity="0.2" stroke-width="1.5"/>
<line x1="175.00" y1="97.00" x2="175.00" y2="100.60" stroke="#808080" stroke-opacity="0.2" stroke-width="1.5"/>
<line x1="220.00" y1="97.00" x2="220.00" y2="100.60" stroke="#808080" stroke-opacity="0.2" stroke-width="1.5"/>
<line x1="197.90" y1="91.00" x2="197.90" y2="107.00" stroke="#808080" stroke-opacity="0.2" stroke-width="1.5"/>
<line x1="196.10" y1="91.00" x2="199.70" y2="91.00" stroke="#808080" stroke-opacity="0.2" stroke-width="1.5"/>
<line x1="196.10" y1="107.00" x2="199.70" y2="107.00" stroke="#808080" stroke-opacity="0.2" stroke-width="1.5"/>
<line x1="200.00" y1="97.50" x2="228.00" y2="97.50" stroke="#808080" stroke-opacity="0.2" stroke-width="1.5"/>
<line x1="200.00" y1="95.70" x2="200.00" y2="99.30" stroke="#808080" stroke-opacity="0.2" stroke-width="1.5"/>
<line x1="228.00" y1="95.70" x2="228.00" y2="99.30" stroke="#808080" stroke-opacity="0.2" stroke-width="1.5"/>
<line x1="214.30" y1="90.00" x2="214.30" y2="105.00" stroke="#808080" stroke-opacity="0.2" stroke-width="1.5"/>
<line x1="212.50" y1="90.00" x2="216.10" y2="90.00" stroke="#808080" stroke-opacity="0.2" stroke-width="1.5"/>
<line x1="212.50" y1="105.00" x2="216.10" y2="105.00" stroke="#808080" stroke-opacity="0.2" stroke-width="1.5"/>
<line x1="215.00" y1="91.00" x2="260.00" y2="91.00" stroke="#808080" stroke-opacity="0.2" stroke-width="1.5"/>
<line x1="215.00" y1="89.20" x2="215.00" y2="92.80" stroke="#808080" stroke-opacity="0.2" stroke-width="1.5"/>
<line x1="260.00" y1="89.20" x2="260.00" y2="92.80" stroke="#808080" stroke-opacity="0.2" stroke-width="1.5"/>
<line x1="237.10" y1="82.00" x2="237.10" y2="99.50" stroke="#808080" stroke-opacity="0.2" stroke-width="1.5"/>
<line x1="235.30" y1="82.00" x2="238.90" y2="82.00" stroke="#808080" stroke-opacity="0.2" stroke-width="1.5"/>
<line x1="235.30" y1="99.50" x2="238.90" y2="99.50" stroke="#808080" stroke-opacity="0.2" stroke-width="1.5"/>
<line x1="230.00" y1="85.60" x2="270.00" y2="85.60" stroke="#808080" stroke-opacity="0.2" stroke-width="1.5"/>
<line x1="230.00" y1="83.80" x2="230.00" y2="87.40" stroke="#808080" stroke-opacity="0.2" stroke-width="1.5"/>
<line x1="270.00" y1="83.80" x2="270.00" y2="87.40" stroke="#808080" stroke-opacity="0.2" stroke-width="1.5"/>
<line x1="250.50" y1="77.40" x2="250.50" y2="92.60" stroke="#808080" stroke-opacity="0.2" stroke-width="1.5"/>
<line x1="248.70" y1="77.40" x2="252.30" y2="77.40" stroke="#808080" stroke-opacity="0.2" stroke-width="1.5"/>
<line x1="248.70" y1="92.60" x2="252.30" y2="92.60" stroke="#808080" stroke-opacity="0.2" stroke-width="1.5"/>
<line x1="253.00" y1="88.80" x2="291.00" y2="88.80" stroke="#808080" stroke-opacity="0.2" stroke-width="1.5"/>
<line x1="253.00" y1="87.00" x2="253.00" y2="90.60" stroke="#808080" stroke-opacity="0.2" stroke-width="1.5"/>
<line x1="291.00" y1="87.00" x2="291.00" y2="90.60" stroke="#808080" stroke-opacity="0.2" stroke-width="1.5"/>
<line x1="270.60" y1="85.00" x2="270.60" y2="96.00" stroke="#808080" stroke-opacity="0.2" stroke-width="1.5"/>
<line x1="268.80" y1="85.00" x2="272.40" y2="85.00" stroke="#808080" stroke-opacity="0.2" stroke-width="1.5"/>
<line x1="268.80" y1="96.00" x2="272.40" y2="96.00" stroke="#808080" stroke-opacity="0.2" stroke-width="1.5"/>
<path d="M77.00,97.10 L78.22,99.93 L81.28,100.21 L78.97,102.24 L79.65,105.24 L77.00,103.67 L74.35,105.24 L75.03,102.24 L72.72,100.21 L75.78,99.93 Z" fill="#9c3604" stroke="#000" stroke-width="1.0" stroke-linejoin="miter"/>
<path d="M145.10,111.30 L146.32,114.13 L149.38,114.41 L147.07,116.44 L147.75,119.44 L145.10,117.87 L142.45,119.44 L143.13,116.44 L140.82,114.41 L143.88,114.13 Z" fill="#feeba2" stroke="#000" stroke-width="1.0" stroke-linejoin="miter"/>
<path d="M139.90,121.40 L141.12,124.23 L144.18,124.51 L141.87,126.54 L142.55,129.54 L139.90,127.97 L137.25,129.54 L137.93,126.54 L135.62,124.51 L138.68,124.23 Z" fill="#fff1ae" stroke="#000" stroke-width="1.0" stroke-linejoin="miter"/>
<path d="M110.90,131.10 L112.12,133.93 L115.18,134.21 L112.87,136.24 L113.55,139.24 L110.90,137.67 L108.25,139.24 L108.93,136.24 L106.62,134.21 L109.68,133.93 Z" fill="#fff9c5" stroke="#000" stroke-width="1.0" stroke-linejoin="miter"/>
<path d="M130.60,138.30 L131.82,141.13 L134.88,141.41 L132.57,143.44 L133.25,146.44 L130.60,144.87 L127.95,146.44 L128.63,143.44 L126.32,141.41 L129.38,141.13 Z" fill="#fff6b9" stroke="#000" stroke-width="1.0" stroke-linejoin="miter"/>
<path d="M60.00,150.60 L61.22,153.43 L64.28,153.71 L61.97,155.74 L62.65,158.74 L60.00,157.17 L57.35,158.74 L58.03,155.74 L55.72,153.71 L58.78,153.43 Z" fill="#ffffff" stroke="#000" stroke-width="1.0" stroke-linejoin="miter"/>
<path d="M122.10,189.90 L123.32,192.73 L126.38,193.01 L124.07,195.04 L124.75,198.04 L122.10,196.47 L119.45,198.04 L120.13,195.04 L117.82,193.01 L120.88,192.73 Z" fill="#cc4c02" stroke="#000" stroke-width="1.0" stroke-linejoin="miter"/>
<path d="M178.80,165.30 L180.02,168.13 L183.08,168.41 L180.77,170.44 L181.45,173.44 L178.80,171.87 L176.15,173.44 L176.83,170.44 L174.52,168.41 L177.58,168.13 Z" fill="#fe9829" stroke="#000" stroke-width="1.0" stroke-linejoin="miter"/>
<path d="M170.20,102.00 L171.42,104.83 L174.48,105.11 L172.17,107.14 L172.85,110.14 L170.20,108.57 L167.55,110.14 L168.23,107.14 L165.92,105.11 L168.98,104.83 Z" fill="#fee697" stroke="#000" stroke-width="1.0" stroke-linejoin="miter"/>
<path d="M270.60,84.30 L271.82,87.13 L274.88,87.41 L272.57,89.44 L273.25,92.44 L270.60,90.87 L267.95,92.44 L268.63,89.44 L266.32,87.41 L269.38,87.13 Z" fill="#d85a09" stroke="#000" stroke-width="1.0" stroke-linejoin="miter"/>
<circle cx="102.40" cy="111.90" r="2.75" fill="#ffffff" stroke="#000" stroke-width="0.85"/>
<circle cx="131.50" cy="104.80" r="2.75" fill="#feeba2" stroke="#000" stroke-width="0.85"/>
<circle cx="130.00" cy="112.70" r="2.75" fill="#fff6b9" stroke="#000" stroke-width="0.85"/>
<circle cx="95.20" cy="123.30" r="2.75" fill="#ffffff" stroke="#000" stroke-width="0.85"/>
<circle cx="109.90" cy="122.30" r="2.75" fill="#ffffff" stroke="#000" stroke-width="0.85"/>
<circle cx="126.70" cy="129.60" r="2.75" fill="#ffffff" stroke="#000" stroke-width="0.85"/>
<circle cx="144.80" cy="120.30" r="2.75" fill="#fee697" stroke="#000" stroke-width="0.85"/>
<circle cx="135.80" cy="131.80" r="2.75" fill="#fff1ae" stroke="#000" stroke-width="0.85"/>
<circle cx="104.50" cy="130.70" r="2.75" fill="#ffffff" stroke="#000" stroke-width="0.85"/>
<circle cx="105.30" cy="133.80" r="2.75" fill="#ffffff" stroke="#000" stroke-width="0.85"/>
<circle cx="106.00" cy="136.70" r="2.75" fill="#ffffff" stroke="#000" stroke-width="0.85"/>
<circle cx="114.30" cy="144.50" r="2.75" fill="#ffffff" stroke="#000" stroke-width="0.85"/>
<circle cx="112.30" cy="145.00" r="2.75" fill="#ffffff" stroke="#000" stroke-width="0.85"/>
<circle cx="93.40" cy="148.50" r="2.75" fill="#fff6b9" stroke="#000" stroke-width="0.85"/>
<circle cx="88.20" cy="155.80" r="2.75" fill="#ffffff" stroke="#000" stroke-width="0.85"/>
<circle cx="99.90" cy="154.60" r="2.75" fill="#ffffff" stroke="#000" stroke-width="0.85"/>
<circle cx="135.60" cy="151.80" r="2.75" fill="#feeba2" stroke="#000" stroke-width="0.85"/>
<circle cx="107.60" cy="166.50" r="2.75" fill="#ffffff" stroke="#000" stroke-width="0.85"/>
<circle cx="113.10" cy="176.00" r="2.75" fill="#feeba2" stroke="#000" stroke-width="0.85"/>
<circle cx="83.20" cy="184.20" r="2.75" fill="#ffffff" stroke="#000" stroke-width="0.85"/>
<circle cx="129.40" cy="169.50" r="2.75" fill="#fece65" stroke="#000" stroke-width="0.85"/>
<circle cx="97.50" cy="237.20" r="2.75" fill="#732905" stroke="#000" stroke-width="0.85"/>
<circle cx="167.20" cy="151.20" r="2.75" fill="#fece65" stroke="#000" stroke-width="0.85"/>
<circle cx="154.90" cy="125.80" r="2.75" fill="#fffbcf" stroke="#000" stroke-width="0.85"/>
<circle cx="155.10" cy="129.40" r="2.75" fill="#feeba2" stroke="#000" stroke-width="0.85"/>
<circle cx="155.40" cy="132.20" r="2.75" fill="#fec754" stroke="#000" stroke-width="0.85"/>
<circle cx="162.70" cy="113.70" r="2.75" fill="#feeba2" stroke="#000" stroke-width="0.85"/>
<circle cx="162.40" cy="123.40" r="2.75" fill="#fff1ae" stroke="#000" stroke-width="0.85"/>
<circle cx="176.00" cy="107.10" r="2.75" fill="#fea433" stroke="#000" stroke-width="0.85"/>
<circle cx="192.30" cy="99.00" r="2.75" fill="#fece65" stroke="#000" stroke-width="0.85"/>
<circle cx="197.90" cy="98.80" r="2.75" fill="#f98e23" stroke="#000" stroke-width="0.85"/>
<circle cx="214.30" cy="97.50" r="2.75" fill="#9c3604" stroke="#000" stroke-width="0.85"/>
<circle cx="237.10" cy="91.00" r="2.75" fill="#fff1ae" stroke="#000" stroke-width="0.85"/>
<circle cx="250.50" cy="85.60" r="2.75" fill="#fff1ae" stroke="#000" stroke-width="0.85"/>
</g>
<rect x="37.5" y="39.3" width="268.1" height="208.89999999999998" fill="none" stroke="#2a2a2a" stroke-width="1.0"/>
<line x1="37.50" y1="248.20" x2="37.50" y2="244.70" stroke="#000" stroke-width="0.7" />
<line x1="37.50" y1="39.30" x2="37.50" y2="42.80" stroke="#000" stroke-width="0.7" />
<line x1="48.22" y1="248.20" x2="48.22" y2="246.20" stroke="#000" stroke-width="0.7" />
<line x1="48.22" y1="39.30" x2="48.22" y2="41.30" stroke="#000" stroke-width="0.7" />
<line x1="58.95" y1="248.20" x2="58.95" y2="246.20" stroke="#000" stroke-width="0.7" />
<line x1="58.95" y1="39.30" x2="58.95" y2="41.30" stroke="#000" stroke-width="0.7" />
<line x1="69.67" y1="248.20" x2="69.67" y2="246.20" stroke="#000" stroke-width="0.7" />
<line x1="69.67" y1="39.30" x2="69.67" y2="41.30" stroke="#000" stroke-width="0.7" />
<line x1="80.40" y1="248.20" x2="80.40" y2="246.20" stroke="#000" stroke-width="0.7" />
<line x1="80.40" y1="39.30" x2="80.40" y2="41.30" stroke="#000" stroke-width="0.7" />
<line x1="91.12" y1="248.20" x2="91.12" y2="244.70" stroke="#000" stroke-width="0.7" />
<line x1="91.12" y1="39.30" x2="91.12" y2="42.80" stroke="#000" stroke-width="0.7" />
<line x1="101.84" y1="248.20" x2="101.84" y2="246.20" stroke="#000" stroke-width="0.7" />
<line x1="101.84" y1="39.30" x2="101.84" y2="41.30" stroke="#000" stroke-width="0.7" />
<line x1="112.57" y1="248.20" x2="112.57" y2="246.20" stroke="#000" stroke-width="0.7" />
<line x1="112.57" y1="39.30" x2="112.57" y2="41.30" stroke="#000" stroke-width="0.7" />
<line x1="123.29" y1="248.20" x2="123.29" y2="246.20" stroke="#000" stroke-width="0.7" />
<line x1="123.29" y1="39.30" x2="123.29" y2="41.30" stroke="#000" stroke-width="0.7" />
<line x1="134.02" y1="248.20" x2="134.02" y2="246.20" stroke="#000" stroke-width="0.7" />
<line x1="134.02" y1="39.30" x2="134.02" y2="41.30" stroke="#000" stroke-width="0.7" />
<line x1="144.74" y1="248.20" x2="144.74" y2="244.70" stroke="#000" stroke-width="0.7" />
<line x1="144.74" y1="39.30" x2="144.74" y2="42.80" stroke="#000" stroke-width="0.7" />
<line x1="155.46" y1="248.20" x2="155.46" y2="246.20" stroke="#000" stroke-width="0.7" />
<line x1="155.46" y1="39.30" x2="155.46" y2="41.30" stroke="#000" stroke-width="0.7" />
<line x1="166.19" y1="248.20" x2="166.19" y2="246.20" stroke="#000" stroke-width="0.7" />
<line x1="166.19" y1="39.30" x2="166.19" y2="41.30" stroke="#000" stroke-width="0.7" />
<line x1="176.91" y1="248.20" x2="176.91" y2="246.20" stroke="#000" stroke-width="0.7" />
<line x1="176.91" y1="39.30" x2="176.91" y2="41.30" stroke="#000" stroke-width="0.7" />
<line x1="187.64" y1="248.20" x2="187.64" y2="246.20" stroke="#000" stroke-width="0.7" />
<line x1="187.64" y1="39.30" x2="187.64" y2="41.30" stroke="#000" stroke-width="0.7" />
<line x1="198.36" y1="248.20" x2="198.36" y2="244.70" stroke="#000" stroke-width="0.7" />
<line x1="198.36" y1="39.30" x2="198.36" y2="42.80" stroke="#000" stroke-width="0.7" />
<line x1="209.08" y1="248.20" x2="209.08" y2="246.20" stroke="#000" stroke-width="0.7" />
<line x1="209.08" y1="39.30" x2="209.08" y2="41.30" stroke="#000" stroke-width="0.7" />
<line x1="219.81" y1="248.20" x2="219.81" y2="246.20" stroke="#000" stroke-width="0.7" />
<line x1="219.81" y1="39.30" x2="219.81" y2="41.30" stroke="#000" stroke-width="0.7" />
<line x1="230.53" y1="248.20" x2="230.53" y2="246.20" stroke="#000" stroke-width="0.7" />
<line x1="230.53" y1="39.30" x2="230.53" y2="41.30" stroke="#000" stroke-width="0.7" />
<line x1="241.26" y1="248.20" x2="241.26" y2="246.20" stroke="#000" stroke-width="0.7" />
<line x1="241.26" y1="39.30" x2="241.26" y2="41.30" stroke="#000" stroke-width="0.7" />
<line x1="251.98" y1="248.20" x2="251.98" y2="244.70" stroke="#000" stroke-width="0.7" />
<line x1="251.98" y1="39.30" x2="251.98" y2="42.80" stroke="#000" stroke-width="0.7" />
<line x1="262.70" y1="248.20" x2="262.70" y2="246.20" stroke="#000" stroke-width="0.7" />
<line x1="262.70" y1="39.30" x2="262.70" y2="41.30" stroke="#000" stroke-width="0.7" />
<line x1="273.43" y1="248.20" x2="273.43" y2="246.20" stroke="#000" stroke-width="0.7" />
<line x1="273.43" y1="39.30" x2="273.43" y2="41.30" stroke="#000" stroke-width="0.7" />
<line x1="284.15" y1="248.20" x2="284.15" y2="246.20" stroke="#000" stroke-width="0.7" />
<line x1="284.15" y1="39.30" x2="284.15" y2="41.30" stroke="#000" stroke-width="0.7" />
<line x1="294.88" y1="248.20" x2="294.88" y2="246.20" stroke="#000" stroke-width="0.7" />
<line x1="294.88" y1="39.30" x2="294.88" y2="41.30" stroke="#000" stroke-width="0.7" />
<line x1="305.60" y1="248.20" x2="305.60" y2="244.70" stroke="#000" stroke-width="0.7" />
<line x1="305.60" y1="39.30" x2="305.60" y2="42.80" stroke="#000" stroke-width="0.7" />
<text x="37.50" y="263.30" font-size="10.4" font-family='"Liberation Serif", serif' text-anchor="middle" fill="#000" stroke="#000" stroke-width="0.1" textLength="14.8" lengthAdjust="spacingAndGlyphs" >0.5</text>
<text x="91.12" y="263.30" font-size="10.4" font-family='"Liberation Serif", serif' text-anchor="middle" fill="#000" stroke="#000" stroke-width="0.1" textLength="14.8" lengthAdjust="spacingAndGlyphs" >1.0</text>
<text x="144.74" y="263.30" font-size="10.4" font-family='"Liberation Serif", serif' text-anchor="middle" fill="#000" stroke="#000" stroke-width="0.1" textLength="14.8" lengthAdjust="spacingAndGlyphs" >1.5</text>
<text x="198.36" y="263.30" font-size="10.4" font-family='"Liberation Serif", serif' text-anchor="middle" fill="#000" stroke="#000" stroke-width="0.1" textLength="14.8" lengthAdjust="spacingAndGlyphs" >2.0</text>
<text x="251.98" y="263.30" font-size="10.4" font-family='"Liberation Serif", serif' text-anchor="middle" fill="#000" stroke="#000" stroke-width="0.1" textLength="14.8" lengthAdjust="spacingAndGlyphs" >2.5</text>
<text x="305.60" y="263.30" font-size="10.4" font-family='"Liberation Serif", serif' text-anchor="middle" fill="#000" stroke="#000" stroke-width="0.1" textLength="14.8" lengthAdjust="spacingAndGlyphs" >3.0</text>
<line x1="37.50" y1="244.64" x2="39.50" y2="244.64" stroke="#000" stroke-width="0.7" />
<line x1="37.50" y1="237.17" x2="39.50" y2="237.17" stroke="#000" stroke-width="0.7" />
<line x1="37.50" y1="229.70" x2="41.00" y2="229.70" stroke="#000" stroke-width="0.7" />
<line x1="37.50" y1="222.23" x2="39.50" y2="222.23" stroke="#000" stroke-width="0.7" />
<line x1="37.50" y1="214.76" x2="39.50" y2="214.76" stroke="#000" stroke-width="0.7" />
<line x1="37.50" y1="207.29" x2="39.50" y2="207.29" stroke="#000" stroke-width="0.7" />
<line x1="37.50" y1="199.82" x2="39.50" y2="199.82" stroke="#000" stroke-width="0.7" />
<line x1="37.50" y1="192.35" x2="41.00" y2="192.35" stroke="#000" stroke-width="0.7" />
<line x1="37.50" y1="184.88" x2="39.50" y2="184.88" stroke="#000" stroke-width="0.7" />
<line x1="37.50" y1="177.41" x2="39.50" y2="177.41" stroke="#000" stroke-width="0.7" />
<line x1="37.50" y1="169.94" x2="39.50" y2="169.94" stroke="#000" stroke-width="0.7" />
<line x1="37.50" y1="162.47" x2="39.50" y2="162.47" stroke="#000" stroke-width="0.7" />
<line x1="37.50" y1="155.00" x2="41.00" y2="155.00" stroke="#000" stroke-width="0.7" />
<line x1="37.50" y1="147.53" x2="39.50" y2="147.53" stroke="#000" stroke-width="0.7" />
<line x1="37.50" y1="140.06" x2="39.50" y2="140.06" stroke="#000" stroke-width="0.7" />
<line x1="37.50" y1="132.59" x2="39.50" y2="132.59" stroke="#000" stroke-width="0.7" />
<line x1="37.50" y1="125.12" x2="39.50" y2="125.12" stroke="#000" stroke-width="0.7" />
<line x1="37.50" y1="117.65" x2="41.00" y2="117.65" stroke="#000" stroke-width="0.7" />
<line x1="37.50" y1="110.18" x2="39.50" y2="110.18" stroke="#000" stroke-width="0.7" />
<line x1="37.50" y1="102.71" x2="39.50" y2="102.71" stroke="#000" stroke-width="0.7" />
<line x1="37.50" y1="95.24" x2="39.50" y2="95.24" stroke="#000" stroke-width="0.7" />
<line x1="37.50" y1="87.77" x2="39.50" y2="87.77" stroke="#000" stroke-width="0.7" />
<line x1="37.50" y1="80.30" x2="41.00" y2="80.30" stroke="#000" stroke-width="0.7" />
<line x1="37.50" y1="72.83" x2="39.50" y2="72.83" stroke="#000" stroke-width="0.7" />
<line x1="37.50" y1="65.36" x2="39.50" y2="65.36" stroke="#000" stroke-width="0.7" />
<line x1="37.50" y1="57.89" x2="39.50" y2="57.89" stroke="#000" stroke-width="0.7" />
<line x1="37.50" y1="50.42" x2="39.50" y2="50.42" stroke="#000" stroke-width="0.7" />
<line x1="37.50" y1="42.95" x2="41.00" y2="42.95" stroke="#000" stroke-width="0.7" />
<text x="30.40" y="233.60" font-size="10.4" font-family='"Liberation Serif", serif' text-anchor="end" fill="#000" stroke="#000" stroke-width="0.1" textLength="11.6" lengthAdjust="spacingAndGlyphs" >40</text>
<text x="30.40" y="196.25" font-size="10.4" font-family='"Liberation Serif", serif' text-anchor="end" fill="#000" stroke="#000" stroke-width="0.1" textLength="11.6" lengthAdjust="spacingAndGlyphs" >41</text>
<text x="30.40" y="158.90" font-size="10.4" font-family='"Liberation Serif", serif' text-anchor="end" fill="#000" stroke="#000" stroke-width="0.1" textLength="11.6" lengthAdjust="spacingAndGlyphs" >42</text>
<text x="30.40" y="121.55" font-size="10.4" font-family='"Liberation Serif", serif' text-anchor="end" fill="#000" stroke="#000" stroke-width="0.1" textLength="11.6" lengthAdjust="spacingAndGlyphs" >43</text>
<text x="30.40" y="84.20" font-size="10.4" font-family='"Liberation Serif", serif' text-anchor="end" fill="#000" stroke="#000" stroke-width="0.1" textLength="11.6" lengthAdjust="spacingAndGlyphs" >44</text>
<text x="30.40" y="46.85" font-size="10.4" font-family='"Liberation Serif", serif' text-anchor="end" fill="#000" stroke="#000" stroke-width="0.1" textLength="11.6" lengthAdjust="spacingAndGlyphs" >45</text>
<line x1="305.60" y1="246.88" x2="303.60" y2="246.88" stroke="#000" stroke-width="0.7" />
<line x1="305.60" y1="239.41" x2="303.60" y2="239.41" stroke="#000" stroke-width="0.7" />
<line x1="305.60" y1="231.94" x2="303.60" y2="231.94" stroke="#000" stroke-width="0.7" />
<line x1="305.60" y1="224.47" x2="303.60" y2="224.47" stroke="#000" stroke-width="0.7" />
<line x1="305.60" y1="217.00" x2="302.10" y2="217.00" stroke="#000" stroke-width="0.7" />
<line x1="305.60" y1="209.53" x2="303.60" y2="209.53" stroke="#000" stroke-width="0.7" />
<line x1="305.60" y1="202.06" x2="303.60" y2="202.06" stroke="#000" stroke-width="0.7" />
<line x1="305.60" y1="194.59" x2="303.60" y2="194.59" stroke="#000" stroke-width="0.7" />
<line x1="305.60" y1="187.12" x2="303.60" y2="187.12" stroke="#000" stroke-width="0.7" />
<line x1="305.60" y1="179.65" x2="302.10" y2="179.65" stroke="#000" stroke-width="0.7" />
<line x1="305.60" y1="172.18" x2="303.60" y2="172.18" stroke="#000" stroke-width="0.7" />
<line x1="305.60" y1="164.71" x2="303.60" y2="164.71" stroke="#000" stroke-width="0.7" />
<line x1="305.60" y1="157.24" x2="303.60" y2="157.24" stroke="#000" stroke-width="0.7" />
<line x1="305.60" y1="149.77" x2="303.60" y2="149.77" stroke="#000" stroke-width="0.7" />
<line x1="305.60" y1="142.30" x2="302.10" y2="142.30" stroke="#000" stroke-width="0.7" />
<line x1="305.60" y1="134.83" x2="303.60" y2="134.83" stroke="#000" stroke-width="0.7" />
<line x1="305.60" y1="127.36" x2="303.60" y2="127.36" stroke="#000" stroke-width="0.7" />
<line x1="305.60" y1="119.89" x2="303.60" y2="119.89" stroke="#000" stroke-width="0.7" />
<line x1="305.60" y1="112.42" x2="303.60" y2="112.42" stroke="#000" stroke-width="0.7" />
<line x1="305.60" y1="104.95" x2="302.10" y2="104.95" stroke="#000" stroke-width="0.7" />
<line x1="305.60" y1="97.48" x2="303.60" y2="97.48" stroke="#000" stroke-width="0.7" />
<line x1="305.60" y1="90.01" x2="303.60" y2="90.01" stroke="#000" stroke-width="0.7" />
<line x1="305.60" y1="82.54" x2="303.60" y2="82.54" stroke="#000" stroke-width="0.7" />
<line x1="305.60" y1="75.07" x2="303.60" y2="75.07" stroke="#000" stroke-width="0.7" />
<line x1="305.60" y1="67.60" x2="302.10" y2="67.60" stroke="#000" stroke-width="0.7" />
<line x1="305.60" y1="60.13" x2="303.60" y2="60.13" stroke="#000" stroke-width="0.7" />
<line x1="305.60" y1="52.66" x2="303.60" y2="52.66" stroke="#000" stroke-width="0.7" />
<line x1="305.60" y1="45.19" x2="303.60" y2="45.19" stroke="#000" stroke-width="0.7" />
<text x="312.60" y="71.40" font-size="10.4" font-family='"Liberation Serif", serif' text-anchor="start" fill="#000" stroke="#000" stroke-width="0.1" textLength="5.9" lengthAdjust="spacingAndGlyphs" >3</text>
<text x="312.60" y="108.75" font-size="10.4" font-family='"Liberation Serif", serif' text-anchor="start" fill="#000" stroke="#000" stroke-width="0.1" textLength="5.9" lengthAdjust="spacingAndGlyphs" >2</text>
<text x="312.60" y="146.10" font-size="10.4" font-family='"Liberation Serif", serif' text-anchor="start" fill="#000" stroke="#000" stroke-width="0.1" textLength="5.9" lengthAdjust="spacingAndGlyphs" >1</text>
<text x="312.60" y="183.45" font-size="10.4" font-family='"Liberation Serif", serif' text-anchor="start" fill="#000" stroke="#000" stroke-width="0.1" textLength="5.9" lengthAdjust="spacingAndGlyphs" >0</text>
<text x="312.60" y="220.80" font-size="10.4" font-family='"Liberation Serif", serif' text-anchor="start" fill="#000" stroke="#000" stroke-width="0.1" textLength="10.0" lengthAdjust="spacingAndGlyphs" >−1</text>
<text x="8.6" y="143.8" font-size="9.6" font-family='"Liberation Sans", sans-serif' text-anchor="middle" textLength="83.5" lengthAdjust="spacingAndGlyphs" transform="rotate(-90 8.6 143.8)"><tspan>log(</tspan><tspan font-style="italic">L</tspan><tspan dy="1.70" font-size="6.6">Hα</tspan><tspan dy="-1.70" dx="1.0">/</tspan><tspan dx="1.0">[erg s</tspan><tspan dy="-3.40" font-size="6.6">−1</tspan><tspan dy="3.40">])</tspan></text>
<text x="84.9" y="279.8" font-size="9.6" font-family='"Liberation Sans", sans-serif' textLength="91" lengthAdjust="spacingAndGlyphs"><tspan>log(</tspan><tspan font-style="italic">SFR</tspan><tspan dx="1.0">/</tspan><tspan dx="1.0">[M</tspan><tspan dy="1.90" font-size="6.4">ʘ</tspan><tspan dy="-1.90"> yr</tspan><tspan dy="-3.40" font-size="6.6">−1</tspan><tspan dy="3.40">])</tspan></text>
<text x="179.60" y="279.80" font-size="10.2" font-family='"Liberation Serif", serif' text-anchor="start" fill="#000" stroke="#000" stroke-width="0.1" textLength="77.4" lengthAdjust="spacingAndGlyphs" >from SED fitting</text>
<text x="339.3" y="228" font-size="9.6" font-family='"Liberation Sans", sans-serif' textLength="100.5" lengthAdjust="spacingAndGlyphs" transform="rotate(-90 339.3 228)"><tspan>log(</tspan><tspan font-style="italic">SFR</tspan><tspan dy="1.70" font-size="6.6">Hα</tspan><tspan dy="-1.70" dx="1.0">/</tspan><tspan dx="1.0">[M</tspan><tspan dy="1.90" font-size="6.4">ʘ</tspan><tspan dy="-1.90"> yr</tspan><tspan dy="-3.40" font-size="6.6">−1</tspan><tspan dy="3.40">])</tspan></text>
<text x="339.3" y="124.5" font-size="10.2" font-family='"Liberation Serif", serif' textLength="64.2" lengthAdjust="spacingAndGlyphs" transform="rotate(-90 339.3 124.5)">(using K+98)</text>
<line x1="44.8" y1="50.1" x2="61.4" y2="50.1" stroke="#000" stroke-width="1.2" stroke-dasharray="5.2,2.0"/>
<text x="67.90" y="53.00" font-size="8.8" font-family='"Liberation Serif", serif' text-anchor="start" fill="#000" stroke="#000" stroke-width="0.1" textLength="134.6" lengthAdjust="spacingAndGlyphs" >Kennicutt+98 (solar metallicity)</text>
<path d="M53.40,58.80 L54.37,61.06 L56.82,61.29 L54.97,62.91 L55.52,65.31 L53.40,64.06 L51.28,65.31 L51.83,62.91 L49.98,61.29 L52.43,61.06 Z" fill="#ffffff" stroke="#000" stroke-width="0.8" stroke-linejoin="miter"/>
<text x="67.90" y="64.80" font-size="8.8" font-family='"Liberation Serif", serif' text-anchor="start" fill="#000" stroke="#000" stroke-width="0.1" textLength="49.0" lengthAdjust="spacingAndGlyphs" >Pair-Merger</text>
<text x="217.60" y="235.70" font-size="9.8" font-family='"Liberation Serif", serif' text-anchor="start" fill="#000" stroke="#000" stroke-width="0.1" textLength="34.4" lengthAdjust="spacingAndGlyphs" >Calzetti,</text>
<text x="257.0" y="235.7" font-size="9.6" font-family='"Liberation Sans", sans-serif' textLength="34.3" lengthAdjust="spacingAndGlyphs"><tspan font-style="italic">f</tspan> = 0.44</text>
<g clip-path="url(#cbot)">
<clipPath id="cpb"><path d="M72.36,363.43 L292.24,299.15 L292.24,328.63 L72.36,392.90Z"/></clipPath>
<path clip-path="url(#cpb)" d="M60,240.00L300,0.00M60,242.65L300,2.65M60,245.30L300,5.30M60,247.95L300,7.95M60,250.60L300,10.60M60,253.25L300,13.25M60,255.90L300,15.90M60,258.55L300,18.55M60,261.20L300,21.20M60,263.85L300,23.85M60,266.50L300,26.50M60,269.15L300,29.15M60,271.80L300,31.80M60,274.45L300,34.45M60,277.10L300,37.10M60,279.75L300,39.75M60,282.40L300,42.40M60,285.05L300,45.05M60,287.70L300,47.70M60,290.35L300,50.35M60,293.00L300,53.00M60,295.65L300,55.65M60,298.30L300,58.30M60,300.95L300,60.95M60,303.60L300,63.60M60,306.25L300,66.25M60,308.90L300,68.90M60,311.55L300,71.55M60,314.20L300,74.20M60,316.85L300,76.85M60,319.50L300,79.50M60,322.15L300,82.15M60,324.80L300,84.80M60,327.45L300,87.45M60,330.10L300,90.10M60,332.75L300,92.75M60,335.40L300,95.40M60,338.05L300,98.05M60,340.70L300,100.70M60,343.35L300,103.35M60,346.00L300,106.00M60,348.65L300,108.65M60,351.30L300,111.30M60,353.95L300,113.95M60,356.60L300,116.60M60,359.25L300,119.25M60,361.90L300,121.90M60,364.55L300,124.55M60,367.20L300,127.20M60,369.85L300,129.85M60,372.50L300,132.50M60,375.15L300,135.15M60,377.80L300,137.80M60,380.45L300,140.45M60,383.10L300,143.10M60,385.75L300,145.75M60,388.40L300,148.40M60,391.05L300,151.05M60,393.70L300,153.70M60,396.35L300,156.35M60,399.00L300,159.00M60,401.65L300,161.65M60,404.30L300,164.30M60,406.95L300,166.95M60,409.60L300,169.60M60,412.25L300,172.25M60,414.90L300,174.90M60,417.55L300,177.55M60,420.20L300,180.20M60,422.85L300,182.85M60,425.50L300,185.50M60,428.15L300,188.15M60,430.80L300,190.80M60,433.45L300,193.45M60,436.10L300,196.10M60,438.75L300,198.75M60,441.40L300,201.40M60,444.05L300,204.05M60,446.70L300,206.70M60,449.35L300,209.35M60,452.00L300,212.00M60,454.65L300,214.65M60,457.30L300,217.30M60,459.95L300,219.95M60,462.60L300,222.60M60,465.25L300,225.25M60,467.90L300,227.90M60,470.55L300,230.55M60,473.20L300,233.20M60,475.85L300,235.85M60,478.50L300,238.50M60,481.15L300,241.15M60,483.80L300,243.80M60,486.45L300,246.45M60,489.10L300,249.10M60,491.75L300,251.75M60,494.40L300,254.40M60,497.05L300,257.05M60,499.70L300,259.70M60,502.35L300,262.35M60,505.00L300,265.00M60,507.65L300,267.65M60,510.30L300,270.30M60,512.95L300,272.95M60,515.60L300,275.60M60,518.25L300,278.25M60,520.90L300,280.90M60,523.55L300,283.55M60,526.20L300,286.20M60,528.85L300,288.85M60,531.50L300,291.50M60,534.15L300,294.15M60,536.80L300,296.80M60,539.45L300,299.45M60,542.10L300,302.10M60,544.75L300,304.75M60,547.40L300,307.40M60,550.05L300,310.05M60,552.70L300,312.70M60,555.35L300,315.35M60,558.00L300,318.00M60,560.65L300,320.65M60,563.30L300,323.30M60,565.95L300,325.95M60,568.60L300,328.60M60,571.25L300,331.25M60,573.90L300,333.90M60,576.55L300,336.55M60,579.20L300,339.20M60,581.85L300,341.85M60,584.50L300,344.50M60,587.15L300,347.15M60,589.80L300,349.80M60,592.45L300,352.45M60,595.10L300,355.10M60,597.75L300,357.75M60,600.40L300,360.40M60,603.05L300,363.05M60,605.70L300,365.70M60,608.35L300,368.35M60,611.00L300,371.00M60,613.65L300,373.65M60,616.30L300,376.30M60,618.95L300,378.95M60,621.60L300,381.60M60,624.25L300,384.25M60,626.90L300,386.90M60,629.55L300,389.55M60,632.20L300,392.20M60,634.85L300,394.85M60,637.50L300,397.50M60,640.15L300,400.15M60,642.80L300,402.80M60,645.45L300,405.45M60,648.10L300,408.10M60,650.75L300,410.75M60,653.40L300,413.40M60,656.05L300,416.05M60,658.70L300,418.70M60,661.35L300,421.35M60,664.00L300,424.00M60,666.65L300,426.65M60,669.30L300,429.30M60,671.95L300,431.95M60,674.60L300,434.60M60,677.25L300,437.25M60,679.90L300,439.90M60,682.55L300,442.55M60,685.20L300,445.20M60,687.85L300,447.85M60,690.50L300,450.50M60,693.15L300,453.15M60,695.80L300,455.80M60,698.45L300,458.45M60,701.10L300,461.10M60,703.75L300,463.75M60,706.40L300,466.40M60,709.05L300,469.05M60,711.70L300,471.70M60,714.35L300,474.35M60,717.00L300,477.00M60,719.65L300,479.65M60,722.30L300,482.30M60,724.95L300,484.95M60,727.60L300,487.60M60,730.25L300,490.25M60,732.90L300,492.90M60,735.55L300,495.55M60,738.20L300,498.20" stroke="#1f77b4" stroke-width="1.0" fill="none"/>
<clipPath id="cpo"><path d="M72.36,379.92 L292.24,329.60 L292.24,355.57 L72.36,405.89Z"/></clipPath>
<path clip-path="url(#cpo)" d="M60,-240.00L300,0.00M60,-237.35L300,2.65M60,-234.70L300,5.30M60,-232.05L300,7.95M60,-229.40L300,10.60M60,-226.75L300,13.25M60,-224.10L300,15.90M60,-221.45L300,18.55M60,-218.80L300,21.20M60,-216.15L300,23.85M60,-213.50L300,26.50M60,-210.85L300,29.15M60,-208.20L300,31.80M60,-205.55L300,34.45M60,-202.90L300,37.10M60,-200.25L300,39.75M60,-197.60L300,42.40M60,-194.95L300,45.05M60,-192.30L300,47.70M60,-189.65L300,50.35M60,-187.00L300,53.00M60,-184.35L300,55.65M60,-181.70L300,58.30M60,-179.05L300,60.95M60,-176.40L300,63.60M60,-173.75L300,66.25M60,-171.10L300,68.90M60,-168.45L300,71.55M60,-165.80L300,74.20M60,-163.15L300,76.85M60,-160.50L300,79.50M60,-157.85L300,82.15M60,-155.20L300,84.80M60,-152.55L300,87.45M60,-149.90L300,90.10M60,-147.25L300,92.75M60,-144.60L300,95.40M60,-141.95L300,98.05M60,-139.30L300,100.70M60,-136.65L300,103.35M60,-134.00L300,106.00M60,-131.35L300,108.65M60,-128.70L300,111.30M60,-126.05L300,113.95M60,-123.40L300,116.60M60,-120.75L300,119.25M60,-118.10L300,121.90M60,-115.45L300,124.55M60,-112.80L300,127.20M60,-110.15L300,129.85M60,-107.50L300,132.50M60,-104.85L300,135.15M60,-102.20L300,137.80M60,-99.55L300,140.45M60,-96.90L300,143.10M60,-94.25L300,145.75M60,-91.60L300,148.40M60,-88.95L300,151.05M60,-86.30L300,153.70M60,-83.65L300,156.35M60,-81.00L300,159.00M60,-78.35L300,161.65M60,-75.70L300,164.30M60,-73.05L300,166.95M60,-70.40L300,169.60M60,-67.75L300,172.25M60,-65.10L300,174.90M60,-62.45L300,177.55M60,-59.80L300,180.20M60,-57.15L300,182.85M60,-54.50L300,185.50M60,-51.85L300,188.15M60,-49.20L300,190.80M60,-46.55L300,193.45M60,-43.90L300,196.10M60,-41.25L300,198.75M60,-38.60L300,201.40M60,-35.95L300,204.05M60,-33.30L300,206.70M60,-30.65L300,209.35M60,-28.00L300,212.00M60,-25.35L300,214.65M60,-22.70L300,217.30M60,-20.05L300,219.95M60,-17.40L300,222.60M60,-14.75L300,225.25M60,-12.10L300,227.90M60,-9.45L300,230.55M60,-6.80L300,233.20M60,-4.15L300,235.85M60,-1.50L300,238.50M60,1.15L300,241.15M60,3.80L300,243.80M60,6.45L300,246.45M60,9.10L300,249.10M60,11.75L300,251.75M60,14.40L300,254.40M60,17.05L300,257.05M60,19.70L300,259.70M60,22.35L300,262.35M60,25.00L300,265.00M60,27.65L300,267.65M60,30.30L300,270.30M60,32.95L300,272.95M60,35.60L300,275.60M60,38.25L300,278.25M60,40.90L300,280.90M60,43.55L300,283.55M60,46.20L300,286.20M60,48.85L300,288.85M60,51.50L300,291.50M60,54.15L300,294.15M60,56.80L300,296.80M60,59.45L300,299.45M60,62.10L300,302.10M60,64.75L300,304.75M60,67.40L300,307.40M60,70.05L300,310.05M60,72.70L300,312.70M60,75.35L300,315.35M60,78.00L300,318.00M60,80.65L300,320.65M60,83.30L300,323.30M60,85.95L300,325.95M60,88.60L300,328.60M60,91.25L300,331.25M60,93.90L300,333.90M60,96.55L300,336.55M60,99.20L300,339.20M60,101.85L300,341.85M60,104.50L300,344.50M60,107.15L300,347.15M60,109.80L300,349.80M60,112.45L300,352.45M60,115.10L300,355.10M60,117.75L300,357.75M60,120.40L300,360.40M60,123.05L300,363.05M60,125.70L300,365.70M60,128.35L300,368.35M60,131.00L300,371.00M60,133.65L300,373.65M60,136.30L300,376.30M60,138.95L300,378.95M60,141.60L300,381.60M60,144.25L300,384.25M60,146.90L300,386.90M60,149.55L300,389.55M60,152.20L300,392.20M60,154.85L300,394.85M60,157.50L300,397.50M60,160.15L300,400.15M60,162.80L300,402.80M60,165.45L300,405.45M60,168.10L300,408.10M60,170.75L300,410.75M60,173.40L300,413.40M60,176.05L300,416.05M60,178.70L300,418.70M60,181.35L300,421.35M60,184.00L300,424.00M60,186.65L300,426.65M60,189.30L300,429.30M60,191.95L300,431.95M60,194.60L300,434.60M60,197.25L300,437.25M60,199.90L300,439.90M60,202.55L300,442.55M60,205.20L300,445.20M60,207.85L300,447.85M60,210.50L300,450.50M60,213.15L300,453.15M60,215.80L300,455.80M60,218.45L300,458.45M60,221.10L300,461.10M60,223.75L300,463.75M60,226.40L300,466.40M60,229.05L300,469.05M60,231.70L300,471.70M60,234.35L300,474.35M60,237.00L300,477.00M60,239.65L300,479.65M60,242.30L300,482.30M60,244.95L300,484.95M60,247.60L300,487.60M60,250.25L300,490.25M60,252.90L300,492.90M60,255.55L300,495.55M60,258.20L300,498.20M60,260.85L300,500.85M60,263.50L300,503.50M60,266.15L300,506.15M60,268.80L300,508.80M60,271.45L300,511.45M60,274.10L300,514.10M60,276.75L300,516.75M60,279.40L300,519.40M60,282.05L300,522.05M60,284.70L300,524.70M60,287.35L300,527.35M60,290.00L300,530.00M60,292.65L300,532.65M60,295.30L300,535.30M60,297.95L300,537.95M60,300.60L300,540.60M60,303.25L300,543.25M60,305.90L300,545.90M60,308.55L300,548.55M60,311.20L300,551.20M60,313.85L300,553.85M60,316.50L300,556.50M60,319.15L300,559.15M60,321.80L300,561.80M60,324.45L300,564.45M60,327.10L300,567.10M60,329.75L300,569.75M60,332.40L300,572.40M60,335.05L300,575.05M60,337.70L300,577.70M60,340.35L300,580.35M60,343.00L300,583.00M60,345.65L300,585.65M60,348.30L300,588.30M60,350.95L300,590.95M60,353.60L300,593.60M60,356.25L300,596.25M60,358.90L300,598.90M60,361.55L300,601.55M60,364.20L300,604.20M60,366.85L300,606.85M60,369.50L300,609.50M60,372.15L300,612.15M60,374.80L300,614.80M60,377.45L300,617.45M60,380.10L300,620.10M60,382.75L300,622.75M60,385.40L300,625.40M60,388.05L300,628.05M60,390.70L300,630.70M60,393.35L300,633.35M60,396.00L300,636.00M60,398.65L300,638.65M60,401.30L300,641.30M60,403.95L300,643.95M60,406.60L300,646.60M60,409.25L300,649.25M60,411.90L300,651.90M60,414.55L300,654.55M60,417.20L300,657.20M60,419.85L300,659.85M60,422.50L300,662.50M60,425.15L300,665.15M60,427.80L300,667.80M60,430.45L300,670.45M60,433.10L300,673.10M60,435.75L300,675.75M60,438.40L300,678.40M60,441.05L300,681.05M60,443.70L300,683.70M60,446.35L300,686.35M60,449.00L300,689.00M60,451.65L300,691.65M60,454.30L300,694.30M60,456.95L300,696.95M60,459.60L300,699.60" stroke="#ff7f0e" stroke-width="0.95" fill="none"/>
<line x1="72.36" y1="378.16" x2="292.24" y2="313.89" stroke="#1f77b4" stroke-width="1.2" stroke-dasharray="4.4,2.2"/>
<line x1="72.36" y1="392.90" x2="292.24" y2="342.59" stroke="#ff7f0e" stroke-width="1.2" stroke-dasharray="4.4,2.2"/>
<line x1="60.80" y1="321.30" x2="60.80" y2="337.00" stroke="#808080" stroke-opacity="0.5" stroke-width="1.5"/>
<line x1="59.00" y1="321.30" x2="62.60" y2="321.30" stroke="#808080" stroke-opacity="0.5" stroke-width="1.5"/>
<line x1="59.00" y1="337.00" x2="62.60" y2="337.00" stroke="#808080" stroke-opacity="0.5" stroke-width="1.5"/>
<line x1="60.80" y1="337.60" x2="60.80" y2="349.50" stroke="#808080" stroke-opacity="0.5" stroke-width="1.5"/>
<line x1="59.00" y1="337.60" x2="62.60" y2="337.60" stroke="#808080" stroke-opacity="0.5" stroke-width="1.5"/>
<line x1="59.00" y1="349.50" x2="62.60" y2="349.50" stroke="#808080" stroke-opacity="0.5" stroke-width="1.5"/>
<line x1="60.60" y1="355.00" x2="60.60" y2="476.20" stroke="#808080" stroke-opacity="0.5" stroke-width="1.5"/>
<line x1="58.80" y1="355.00" x2="62.40" y2="355.00" stroke="#808080" stroke-opacity="0.5" stroke-width="1.5"/>
<line x1="58.80" y1="476.20" x2="62.40" y2="476.20" stroke="#808080" stroke-opacity="0.5" stroke-width="1.5"/>
<line x1="80.30" y1="341.00" x2="80.30" y2="354.60" stroke="#808080" stroke-opacity="0.5" stroke-width="1.5"/>
<line x1="78.50" y1="341.00" x2="82.10" y2="341.00" stroke="#808080" stroke-opacity="0.5" stroke-width="1.5"/>
<line x1="78.50" y1="354.60" x2="82.10" y2="354.60" stroke="#808080" stroke-opacity="0.5" stroke-width="1.5"/>
<line x1="86.80" y1="387.40" x2="86.80" y2="405.30" stroke="#808080" stroke-opacity="0.5" stroke-width="1.5"/>
<line x1="85.00" y1="387.40" x2="88.60" y2="387.40" stroke="#808080" stroke-opacity="0.5" stroke-width="1.5"/>
<line x1="85.00" y1="405.30" x2="88.60" y2="405.30" stroke="#808080" stroke-opacity="0.5" stroke-width="1.5"/>
<line x1="97.20" y1="380.50" x2="97.20" y2="411.40" stroke="#808080" stroke-opacity="0.5" stroke-width="1.5"/>
<line x1="95.40" y1="380.50" x2="99.00" y2="380.50" stroke="#808080" stroke-opacity="0.5" stroke-width="1.5"/>
<line x1="95.40" y1="411.40" x2="99.00" y2="411.40" stroke="#808080" stroke-opacity="0.5" stroke-width="1.5"/>
<line x1="114.20" y1="384.00" x2="114.20" y2="404.40" stroke="#808080" stroke-opacity="0.5" stroke-width="1.5"/>
<line x1="112.40" y1="384.00" x2="116.00" y2="384.00" stroke="#808080" stroke-opacity="0.5" stroke-width="1.5"/>
<line x1="112.40" y1="404.40" x2="116.00" y2="404.40" stroke="#808080" stroke-opacity="0.5" stroke-width="1.5"/>
<line x1="122.20" y1="363.80" x2="122.20" y2="386.00" stroke="#808080" stroke-opacity="0.5" stroke-width="1.5"/>
<line x1="120.40" y1="363.80" x2="124.00" y2="363.80" stroke="#808080" stroke-opacity="0.5" stroke-width="1.5"/>
<line x1="120.40" y1="386.00" x2="124.00" y2="386.00" stroke="#808080" stroke-opacity="0.5" stroke-width="1.5"/>
<line x1="123.50" y1="376.00" x2="123.50" y2="398.40" stroke="#808080" stroke-opacity="0.5" stroke-width="1.5"/>
<line x1="121.70" y1="376.00" x2="125.30" y2="376.00" stroke="#808080" stroke-opacity="0.5" stroke-width="1.5"/>
<line x1="121.70" y1="398.40" x2="125.30" y2="398.40" stroke="#808080" stroke-opacity="0.5" stroke-width="1.5"/>
<line x1="138.20" y1="341.00" x2="138.20" y2="358.00" stroke="#808080" stroke-opacity="0.5" stroke-width="1.5"/>
<line x1="136.40" y1="341.00" x2="140.00" y2="341.00" stroke="#808080" stroke-opacity="0.5" stroke-width="1.5"/>
<line x1="136.40" y1="358.00" x2="140.00" y2="358.00" stroke="#808080" stroke-opacity="0.5" stroke-width="1.5"/>
<line x1="142.80" y1="357.00" x2="142.80" y2="375.00" stroke="#808080" stroke-opacity="0.5" stroke-width="1.5"/>
<line x1="141.00" y1="357.00" x2="144.60" y2="357.00" stroke="#808080" stroke-opacity="0.5" stroke-width="1.5"/>
<line x1="141.00" y1="375.00" x2="144.60" y2="375.00" stroke="#808080" stroke-opacity="0.5" stroke-width="1.5"/>
<line x1="148.60" y1="345.00" x2="148.60" y2="363.00" stroke="#808080" stroke-opacity="0.5" stroke-width="1.5"/>
<line x1="146.80" y1="345.00" x2="150.40" y2="345.00" stroke="#808080" stroke-opacity="0.5" stroke-width="1.5"/>
<line x1="146.80" y1="363.00" x2="150.40" y2="363.00" stroke="#808080" stroke-opacity="0.5" stroke-width="1.5"/>
<line x1="148.00" y1="399.60" x2="148.00" y2="490.00" stroke="#808080" stroke-opacity="0.5" stroke-width="1.5"/>
<line x1="146.20" y1="399.60" x2="149.80" y2="399.60" stroke="#808080" stroke-opacity="0.5" stroke-width="1.5"/>
<line x1="146.20" y1="490.00" x2="149.80" y2="490.00" stroke="#808080" stroke-opacity="0.5" stroke-width="1.5"/>
<line x1="153.80" y1="360.00" x2="153.80" y2="376.00" stroke="#808080" stroke-opacity="0.5" stroke-width="1.5"/>
<line x1="152.00" y1="360.00" x2="155.60" y2="360.00" stroke="#808080" stroke-opacity="0.5" stroke-width="1.5"/>
<line x1="152.00" y1="376.00" x2="155.60" y2="376.00" stroke="#808080" stroke-opacity="0.5" stroke-width="1.5"/>
<line x1="156.00" y1="365.00" x2="156.00" y2="388.00" stroke="#808080" stroke-opacity="0.5" stroke-width="1.5"/>
<line x1="154.20" y1="365.00" x2="157.80" y2="365.00" stroke="#808080" stroke-opacity="0.5" stroke-width="1.5"/>
<line x1="154.20" y1="388.00" x2="157.80" y2="388.00" stroke="#808080" stroke-opacity="0.5" stroke-width="1.5"/>
<line x1="160.40" y1="350.00" x2="160.40" y2="366.00" stroke="#808080" stroke-opacity="0.5" stroke-width="1.5"/>
<line x1="158.60" y1="350.00" x2="162.20" y2="350.00" stroke="#808080" stroke-opacity="0.5" stroke-width="1.5"/>
<line x1="158.60" y1="366.00" x2="162.20" y2="366.00" stroke="#808080" stroke-opacity="0.5" stroke-width="1.5"/>
<line x1="160.30" y1="356.00" x2="160.30" y2="372.00" stroke="#808080" stroke-opacity="0.5" stroke-width="1.5"/>
<line x1="158.50" y1="356.00" x2="162.10" y2="356.00" stroke="#808080" stroke-opacity="0.5" stroke-width="1.5"/>
<line x1="158.50" y1="372.00" x2="162.10" y2="372.00" stroke="#808080" stroke-opacity="0.5" stroke-width="1.5"/>
<line x1="160.90" y1="359.00" x2="160.90" y2="376.00" stroke="#808080" stroke-opacity="0.5" stroke-width="1.5"/>
<line x1="159.10" y1="359.00" x2="162.70" y2="359.00" stroke="#808080" stroke-opacity="0.5" stroke-width="1.5"/>
<line x1="159.10" y1="376.00" x2="162.70" y2="376.00" stroke="#808080" stroke-opacity="0.5" stroke-width="1.5"/>
<line x1="161.80" y1="393.30" x2="161.80" y2="482.80" stroke="#808080" stroke-opacity="0.5" stroke-width="1.5"/>
<line x1="160.00" y1="393.30" x2="163.60" y2="393.30" stroke="#808080" stroke-opacity="0.5" stroke-width="1.5"/>
<line x1="160.00" y1="482.80" x2="163.60" y2="482.80" stroke="#808080" stroke-opacity="0.5" stroke-width="1.5"/>
<line x1="168.20" y1="348.00" x2="168.20" y2="364.00" stroke="#808080" stroke-opacity="0.5" stroke-width="1.5"/>
<line x1="166.40" y1="348.00" x2="170.00" y2="348.00" stroke="#808080" stroke-opacity="0.5" stroke-width="1.5"/>
<line x1="166.40" y1="364.00" x2="170.00" y2="364.00" stroke="#808080" stroke-opacity="0.5" stroke-width="1.5"/>
<line x1="166.90" y1="354.00" x2="166.90" y2="370.00" stroke="#808080" stroke-opacity="0.5" stroke-width="1.5"/>
<line x1="165.10" y1="354.00" x2="168.70" y2="354.00" stroke="#808080" stroke-opacity="0.5" stroke-width="1.5"/>
<line x1="165.10" y1="370.00" x2="168.70" y2="370.00" stroke="#808080" stroke-opacity="0.5" stroke-width="1.5"/>
<line x1="169.70" y1="365.00" x2="169.70" y2="382.00" stroke="#808080" stroke-opacity="0.5" stroke-width="1.5"/>
<line x1="167.90" y1="365.00" x2="171.50" y2="365.00" stroke="#808080" stroke-opacity="0.5" stroke-width="1.5"/>
<line x1="167.90" y1="382.00" x2="171.50" y2="382.00" stroke="#808080" stroke-opacity="0.5" stroke-width="1.5"/>
<line x1="171.90" y1="334.00" x2="171.90" y2="351.00" stroke="#808080" stroke-opacity="0.5" stroke-width="1.5"/>
<line x1="170.10" y1="334.00" x2="173.70" y2="334.00" stroke="#808080" stroke-opacity="0.5" stroke-width="1.5"/>
<line x1="170.10" y1="351.00" x2="173.70" y2="351.00" stroke="#808080" stroke-opacity="0.5" stroke-width="1.5"/>
<line x1="174.50" y1="379.80" x2="174.50" y2="400.00" stroke="#808080" stroke-opacity="0.5" stroke-width="1.5"/>
<line x1="172.70" y1="379.80" x2="176.30" y2="379.80" stroke="#808080" stroke-opacity="0.5" stroke-width="1.5"/>
<line x1="172.70" y1="400.00" x2="176.30" y2="400.00" stroke="#808080" stroke-opacity="0.5" stroke-width="1.5"/>
<line x1="179.10" y1="362.00" x2="179.10" y2="380.00" stroke="#808080" stroke-opacity="0.5" stroke-width="1.5"/>
<line x1="177.30" y1="362.00" x2="180.90" y2="362.00" stroke="#808080" stroke-opacity="0.5" stroke-width="1.5"/>
<line x1="177.30" y1="380.00" x2="180.90" y2="380.00" stroke="#808080" stroke-opacity="0.5" stroke-width="1.5"/>
<line x1="178.60" y1="397.00" x2="178.60" y2="490.00" stroke="#808080" stroke-opacity="0.5" stroke-width="1.5"/>
<line x1="176.80" y1="397.00" x2="180.40" y2="397.00" stroke="#808080" stroke-opacity="0.5" stroke-width="1.5"/>
<line x1="176.80" y1="490.00" x2="180.40" y2="490.00" stroke="#808080" stroke-opacity="0.5" stroke-width="1.5"/>
<line x1="180.80" y1="325.90" x2="180.80" y2="342.00" stroke="#808080" stroke-opacity="0.5" stroke-width="1.5"/>
<line x1="179.00" y1="325.90" x2="182.60" y2="325.90" stroke="#808080" stroke-opacity="0.5" stroke-width="1.5"/>
<line x1="179.00" y1="342.00" x2="182.60" y2="342.00" stroke="#808080" stroke-opacity="0.5" stroke-width="1.5"/>
<line x1="182.90" y1="375.00" x2="182.90" y2="391.80" stroke="#808080" stroke-opacity="0.5" stroke-width="1.5"/>
<line x1="181.10" y1="375.00" x2="184.70" y2="375.00" stroke="#808080" stroke-opacity="0.5" stroke-width="1.5"/>
<line x1="181.10" y1="391.80" x2="184.70" y2="391.80" stroke="#808080" stroke-opacity="0.5" stroke-width="1.5"/>
<line x1="198.40" y1="342.00" x2="198.40" y2="356.20" stroke="#808080" stroke-opacity="0.5" stroke-width="1.5"/>
<line x1="196.60" y1="342.00" x2="200.20" y2="342.00" stroke="#808080" stroke-opacity="0.5" stroke-width="1.5"/>
<line x1="196.60" y1="356.20" x2="200.20" y2="356.20" stroke="#808080" stroke-opacity="0.5" stroke-width="1.5"/>
<line x1="209.00" y1="333.50" x2="209.00" y2="350.00" stroke="#808080" stroke-opacity="0.5" stroke-width="1.5"/>
<line x1="207.20" y1="333.50" x2="210.80" y2="333.50" stroke="#808080" stroke-opacity="0.5" stroke-width="1.5"/>
<line x1="207.20" y1="350.00" x2="210.80" y2="350.00" stroke="#808080" stroke-opacity="0.5" stroke-width="1.5"/>
<line x1="207.40" y1="333.50" x2="207.40" y2="350.00" stroke="#808080" stroke-opacity="0.5" stroke-width="1.5"/>
<line x1="205.60" y1="333.50" x2="209.20" y2="333.50" stroke="#808080" stroke-opacity="0.5" stroke-width="1.5"/>
<line x1="205.60" y1="350.00" x2="209.20" y2="350.00" stroke="#808080" stroke-opacity="0.5" stroke-width="1.5"/>
<line x1="222.30" y1="383.10" x2="222.30" y2="490.00" stroke="#808080" stroke-opacity="0.5" stroke-width="1.5"/>
<line x1="220.50" y1="383.10" x2="224.10" y2="383.10" stroke="#808080" stroke-opacity="0.5" stroke-width="1.5"/>
<line x1="220.50" y1="490.00" x2="224.10" y2="490.00" stroke="#808080" stroke-opacity="0.5" stroke-width="1.5"/>
<line x1="266.10" y1="324.40" x2="266.10" y2="339.20" stroke="#808080" stroke-opacity="0.5" stroke-width="1.5"/>
<line x1="264.30" y1="324.40" x2="267.90" y2="324.40" stroke="#808080" stroke-opacity="0.5" stroke-width="1.5"/>
<line x1="264.30" y1="339.20" x2="267.90" y2="339.20" stroke="#808080" stroke-opacity="0.5" stroke-width="1.5"/>
</g>
<g transform="translate(238.4 326.3) rotate(-13)">
<rect x="-25.10" y="-10.40" width="49.20" height="12.40" rx="2.2" ry="2.2" fill="#fff"/>
<rect x="-27.25" y="-1.80" width="53.50" height="11.00" rx="2.2" ry="2.2" fill="#fff"/>
<text x="0" y="-1.6" font-size="7.9" font-family='"Liberation Serif", serif' text-anchor="middle" fill="#1f77b4" stroke="#1f77b4" stroke-width="0.22" textLength="44.2" lengthAdjust="spacingAndGlyphs">DeLooze+14,</text>
<text x="0" y="5.6" font-size="7.9" font-family='"Liberation Serif", serif' text-anchor="middle" fill="#1f77b4" stroke="#1f77b4" stroke-width="0.22" textLength="48.5" lengthAdjust="spacingAndGlyphs">entire sample</text>
</g>
<g transform="translate(238.6 357.5) rotate(-12.5)">
<rect x="-24.30" y="-9.00" width="48.60" height="11.00" rx="2.2" ry="2.2" fill="#fff"/>
<rect x="-33.60" y="-1.80" width="67.20" height="10.00" rx="2.2" ry="2.2" fill="#fff"/>
<text x="0" y="-1.6" font-size="7.9" font-family='"Liberation Serif", serif' text-anchor="middle" fill="#ff7f0e" stroke="#ff7f0e" stroke-width="0.22" textLength="45.4" lengthAdjust="spacingAndGlyphs">DeLooze+14,</text>
<text x="0" y="5.6" font-size="7.9" font-family='"Liberation Serif", serif' text-anchor="middle" fill="#ff7f0e" stroke="#ff7f0e" stroke-width="0.22" textLength="64.0" lengthAdjust="spacingAndGlyphs">metal-poor dwarfs</text>
</g>
<g clip-path="url(#cbot)">
<line x1="58.30" y1="329.10" x2="52.00" y2="329.10" stroke="#000" stroke-width="0.8" />
<path d="M50.3,329.10 L52.8,327.90 L52.8,330.30Z" fill="#000"/>
<line x1="58.30" y1="344.40" x2="52.00" y2="344.40" stroke="#000" stroke-width="0.8" />
<path d="M50.3,344.40 L52.8,343.20 L52.8,345.60Z" fill="#000"/>
<line x1="58.20" y1="364.80" x2="52.00" y2="364.80" stroke="#000" stroke-width="0.8" />
<path d="M50.3,364.80 L52.8,363.60 L52.8,366.00Z" fill="#000"/>
<line x1="58.20" y1="370.60" x2="52.00" y2="370.60" stroke="#000" stroke-width="0.8" />
<path d="M50.3,370.60 L52.8,369.40 L52.8,371.80Z" fill="#000"/>
<line x1="58.20" y1="375.80" x2="52.00" y2="375.80" stroke="#000" stroke-width="0.8" />
<path d="M50.3,375.80 L52.8,374.60 L52.8,377.00Z" fill="#000"/>
<line x1="58.20" y1="377.70" x2="52.00" y2="377.70" stroke="#000" stroke-width="0.8" />
<path d="M50.3,377.70 L52.8,376.50 L52.8,378.90Z" fill="#000"/>
<line x1="58.20" y1="384.80" x2="52.00" y2="384.80" stroke="#000" stroke-width="0.8" />
<path d="M50.3,384.80 L52.8,383.60 L52.8,386.00Z" fill="#000"/>
<line x1="58.20" y1="389.00" x2="52.00" y2="389.00" stroke="#000" stroke-width="0.8" />
<path d="M50.3,389.00 L52.8,387.80 L52.8,390.20Z" fill="#000"/>
<line x1="58.20" y1="395.80" x2="52.00" y2="395.80" stroke="#000" stroke-width="0.8" />
<path d="M50.3,395.80 L52.8,394.60 L52.8,397.00Z" fill="#000"/>
<line x1="58.20" y1="406.00" x2="52.00" y2="406.00" stroke="#000" stroke-width="0.8" />
<path d="M50.3,406.00 L52.8,404.80 L52.8,407.20Z" fill="#000"/>
<line x1="58.20" y1="422.40" x2="52.00" y2="422.40" stroke="#000" stroke-width="0.8" />
<path d="M50.3,422.40 L52.8,421.20 L52.8,423.60Z" fill="#000"/>
<line x1="58.10" y1="432.20" x2="52.00" y2="432.20" stroke="#000" stroke-width="0.8" />
<path d="M50.3,432.20 L52.8,431.00 L52.8,433.40Z" fill="#000"/>
<path d="M60.80,339.90 L62.02,342.73 L65.08,343.01 L62.77,345.04 L63.45,348.04 L60.80,346.47 L58.15,348.04 L58.83,345.04 L56.52,343.01 L59.58,342.73 Z" fill="#9c3604" stroke="#000" stroke-width="1.0" stroke-linejoin="miter"/>
<path d="M60.70,371.30 L61.92,374.13 L64.98,374.41 L62.67,376.44 L63.35,379.44 L60.70,377.87 L58.05,379.44 L58.73,376.44 L56.42,374.41 L59.48,374.13 Z" fill="#ffffff" stroke="#000" stroke-width="1.0" stroke-linejoin="miter"/>
<path d="M60.60,427.70 L61.82,430.53 L64.88,430.81 L62.57,432.84 L63.25,435.84 L60.60,434.27 L57.95,435.84 L58.63,432.84 L56.32,430.81 L59.38,430.53 Z" fill="#cc4c02" stroke="#000" stroke-width="1.0" stroke-linejoin="miter"/>
<path d="M97.20,389.90 L98.42,392.73 L101.48,393.01 L99.17,395.04 L99.85,398.04 L97.20,396.47 L94.55,398.04 L95.23,395.04 L92.92,393.01 L95.98,392.73 Z" fill="#ffffff" stroke="#000" stroke-width="1.0" stroke-linejoin="miter"/>
<path d="M160.40,353.50 L161.62,356.33 L164.68,356.61 L162.37,358.64 L163.05,361.64 L160.40,360.07 L157.75,361.64 L158.43,358.64 L156.12,356.61 L159.18,356.33 Z" fill="#feeba2" stroke="#000" stroke-width="1.0" stroke-linejoin="miter"/>
<path d="M160.90,362.90 L162.12,365.73 L165.18,366.01 L162.87,368.04 L163.55,371.04 L160.90,369.47 L158.25,371.04 L158.93,368.04 L156.62,366.01 L159.68,365.73 Z" fill="#feeba2" stroke="#000" stroke-width="1.0" stroke-linejoin="miter"/>
<path d="M178.60,404.10 L179.82,406.93 L182.88,407.21 L180.57,409.24 L181.25,412.24 L178.60,410.67 L175.95,412.24 L176.63,409.24 L174.32,407.21 L177.38,406.93 Z" fill="#f98e23" stroke="#000" stroke-width="1.0" stroke-linejoin="miter"/>
<path d="M182.90,378.40 L184.12,381.23 L187.18,381.51 L184.87,383.54 L185.55,386.54 L182.90,384.97 L180.25,386.54 L180.93,383.54 L178.62,381.51 L181.68,381.23 Z" fill="#fff1ae" stroke="#000" stroke-width="1.0" stroke-linejoin="miter"/>
<path d="M198.40,344.90 L199.62,347.73 L202.68,348.01 L200.37,350.04 L201.05,353.04 L198.40,351.47 L195.75,353.04 L196.43,350.04 L194.12,348.01 L197.18,347.73 Z" fill="#fedf88" stroke="#000" stroke-width="1.0" stroke-linejoin="miter"/>
<path d="M266.10,328.10 L267.32,330.93 L270.38,331.21 L268.07,333.24 L268.75,336.24 L266.10,334.67 L263.45,336.24 L264.13,333.24 L261.82,331.21 L264.88,330.93 Z" fill="#d05104" stroke="#000" stroke-width="1.0" stroke-linejoin="miter"/>
<circle cx="60.80" cy="329.10" r="2.75" fill="#fedf88" stroke="#000" stroke-width="0.85"/>
<circle cx="60.70" cy="364.80" r="2.75" fill="#ffffff" stroke="#000" stroke-width="0.85"/>
<circle cx="60.70" cy="370.60" r="2.75" fill="#ffffff" stroke="#000" stroke-width="0.85"/>
<circle cx="60.70" cy="377.70" r="2.75" fill="#ffffff" stroke="#000" stroke-width="0.85"/>
<circle cx="60.70" cy="384.80" r="2.75" fill="#ffffff" stroke="#000" stroke-width="0.85"/>
<circle cx="60.70" cy="389.00" r="2.75" fill="#fffddb" stroke="#000" stroke-width="0.85"/>
<circle cx="60.70" cy="395.80" r="2.75" fill="#ffffff" stroke="#000" stroke-width="0.85"/>
<circle cx="60.70" cy="406.00" r="2.75" fill="#ffffff" stroke="#000" stroke-width="0.85"/>
<circle cx="60.70" cy="422.40" r="2.75" fill="#ffffff" stroke="#000" stroke-width="0.85"/>
<circle cx="80.30" cy="347.90" r="2.75" fill="#fed778" stroke="#000" stroke-width="0.85"/>
<circle cx="86.80" cy="394.40" r="2.75" fill="#ffffff" stroke="#000" stroke-width="0.85"/>
<circle cx="114.20" cy="392.10" r="2.75" fill="#fee697" stroke="#000" stroke-width="0.85"/>
<circle cx="122.20" cy="375.10" r="2.75" fill="#ffffff" stroke="#000" stroke-width="0.85"/>
<circle cx="123.50" cy="385.80" r="2.75" fill="#ffffff" stroke="#000" stroke-width="0.85"/>
<circle cx="138.20" cy="349.50" r="2.75" fill="#feb13e" stroke="#000" stroke-width="0.85"/>
<circle cx="142.80" cy="365.70" r="2.75" fill="#fff1ae" stroke="#000" stroke-width="0.85"/>
<circle cx="148.60" cy="354.20" r="2.75" fill="#ffffff" stroke="#000" stroke-width="0.85"/>
<circle cx="148.00" cy="414.40" r="2.75" fill="#fee697" stroke="#000" stroke-width="0.85"/>
<circle cx="153.80" cy="367.50" r="2.75" fill="#fff9c5" stroke="#000" stroke-width="0.85"/>
<circle cx="156.00" cy="372.90" r="2.75" fill="#feeba2" stroke="#000" stroke-width="0.85"/>
<circle cx="160.30" cy="364.00" r="2.75" fill="#ffffff" stroke="#000" stroke-width="0.85"/>
<circle cx="161.80" cy="408.20" r="2.75" fill="#fed778" stroke="#000" stroke-width="0.85"/>
<circle cx="168.20" cy="356.10" r="2.75" fill="#fee697" stroke="#000" stroke-width="0.85"/>
<circle cx="166.90" cy="361.80" r="2.75" fill="#fed778" stroke="#000" stroke-width="0.85"/>
<circle cx="169.70" cy="373.20" r="2.75" fill="#fed778" stroke="#000" stroke-width="0.85"/>
<circle cx="171.90" cy="342.50" r="2.75" fill="#fece65" stroke="#000" stroke-width="0.85"/>
<circle cx="174.50" cy="391.10" r="2.75" fill="#fece65" stroke="#000" stroke-width="0.85"/>
<circle cx="179.10" cy="371.80" r="2.75" fill="#fece65" stroke="#000" stroke-width="0.85"/>
<circle cx="180.80" cy="334.80" r="2.75" fill="#fee697" stroke="#000" stroke-width="0.85"/>
<circle cx="209.00" cy="342.60" r="2.75" fill="#8e3104" stroke="#000" stroke-width="0.85"/>
<circle cx="207.40" cy="340.40" r="2.75" fill="#d05104" stroke="#000" stroke-width="0.85"/>
<circle cx="222.30" cy="473.00" r="2.75" fill="#812d05" stroke="#000" stroke-width="0.85"/>
</g>
<rect x="36.7" y="297.1" width="249.60000000000002" height="189.5" fill="none" stroke="#2a2a2a" stroke-width="1.0"/>
<line x1="36.70" y1="486.60" x2="36.70" y2="484.60" stroke="#000" stroke-width="0.7" />
<line x1="36.70" y1="297.10" x2="36.70" y2="299.10" stroke="#000" stroke-width="0.7" />
<line x1="48.59" y1="486.60" x2="48.59" y2="484.60" stroke="#000" stroke-width="0.7" />
<line x1="48.59" y1="297.10" x2="48.59" y2="299.10" stroke="#000" stroke-width="0.7" />
<line x1="60.47" y1="486.60" x2="60.47" y2="484.60" stroke="#000" stroke-width="0.7" />
<line x1="60.47" y1="297.10" x2="60.47" y2="299.10" stroke="#000" stroke-width="0.7" />
<line x1="72.36" y1="486.60" x2="72.36" y2="483.10" stroke="#000" stroke-width="0.7" />
<line x1="72.36" y1="297.10" x2="72.36" y2="300.60" stroke="#000" stroke-width="0.7" />
<line x1="84.24" y1="486.60" x2="84.24" y2="484.60" stroke="#000" stroke-width="0.7" />
<line x1="84.24" y1="297.10" x2="84.24" y2="299.10" stroke="#000" stroke-width="0.7" />
<line x1="96.13" y1="486.60" x2="96.13" y2="484.60" stroke="#000" stroke-width="0.7" />
<line x1="96.13" y1="297.10" x2="96.13" y2="299.10" stroke="#000" stroke-width="0.7" />
<line x1="108.01" y1="486.60" x2="108.01" y2="484.60" stroke="#000" stroke-width="0.7" />
<line x1="108.01" y1="297.10" x2="108.01" y2="299.10" stroke="#000" stroke-width="0.7" />
<line x1="119.90" y1="486.60" x2="119.90" y2="484.60" stroke="#000" stroke-width="0.7" />
<line x1="119.90" y1="297.10" x2="119.90" y2="299.10" stroke="#000" stroke-width="0.7" />
<line x1="131.79" y1="486.60" x2="131.79" y2="483.10" stroke="#000" stroke-width="0.7" />
<line x1="131.79" y1="297.10" x2="131.79" y2="300.60" stroke="#000" stroke-width="0.7" />
<line x1="143.67" y1="486.60" x2="143.67" y2="484.60" stroke="#000" stroke-width="0.7" />
<line x1="143.67" y1="297.10" x2="143.67" y2="299.10" stroke="#000" stroke-width="0.7" />
<line x1="155.56" y1="486.60" x2="155.56" y2="484.60" stroke="#000" stroke-width="0.7" />
<line x1="155.56" y1="297.10" x2="155.56" y2="299.10" stroke="#000" stroke-width="0.7" />
<line x1="167.44" y1="486.60" x2="167.44" y2="484.60" stroke="#000" stroke-width="0.7" />
<line x1="167.44" y1="297.10" x2="167.44" y2="299.10" stroke="#000" stroke-width="0.7" />
<line x1="179.33" y1="486.60" x2="179.33" y2="484.60" stroke="#000" stroke-width="0.7" />
<line x1="179.33" y1="297.10" x2="179.33" y2="299.10" stroke="#000" stroke-width="0.7" />
<line x1="191.21" y1="486.60" x2="191.21" y2="483.10" stroke="#000" stroke-width="0.7" />
<line x1="191.21" y1="297.10" x2="191.21" y2="300.60" stroke="#000" stroke-width="0.7" />
<line x1="203.10" y1="486.60" x2="203.10" y2="484.60" stroke="#000" stroke-width="0.7" />
<line x1="203.10" y1="297.10" x2="203.10" y2="299.10" stroke="#000" stroke-width="0.7" />
<line x1="214.99" y1="486.60" x2="214.99" y2="484.60" stroke="#000" stroke-width="0.7" />
<line x1="214.99" y1="297.10" x2="214.99" y2="299.10" stroke="#000" stroke-width="0.7" />
<line x1="226.87" y1="486.60" x2="226.87" y2="484.60" stroke="#000" stroke-width="0.7" />
<line x1="226.87" y1="297.10" x2="226.87" y2="299.10" stroke="#000" stroke-width="0.7" />
<line x1="238.76" y1="486.60" x2="238.76" y2="484.60" stroke="#000" stroke-width="0.7" />
<line x1="238.76" y1="297.10" x2="238.76" y2="299.10" stroke="#000" stroke-width="0.7" />
<line x1="250.64" y1="486.60" x2="250.64" y2="483.10" stroke="#000" stroke-width="0.7" />
<line x1="250.64" y1="297.10" x2="250.64" y2="300.60" stroke="#000" stroke-width="0.7" />
<line x1="262.53" y1="486.60" x2="262.53" y2="484.60" stroke="#000" stroke-width="0.7" />
<line x1="262.53" y1="297.10" x2="262.53" y2="299.10" stroke="#000" stroke-width="0.7" />
<line x1="274.41" y1="486.60" x2="274.41" y2="484.60" stroke="#000" stroke-width="0.7" />
<line x1="274.41" y1="297.10" x2="274.41" y2="299.10" stroke="#000" stroke-width="0.7" />
<line x1="286.30" y1="486.60" x2="286.30" y2="484.60" stroke="#000" stroke-width="0.7" />
<line x1="286.30" y1="297.10" x2="286.30" y2="299.10" stroke="#000" stroke-width="0.7" />
<text x="72.36" y="501.60" font-size="10.4" font-family='"Liberation Serif", serif' text-anchor="middle" fill="#000" stroke="#000" stroke-width="0.1" textLength="14.8" lengthAdjust="spacingAndGlyphs" >8.0</text>
<text x="131.79" y="501.60" font-size="10.4" font-family='"Liberation Serif", serif' text-anchor="middle" fill="#000" stroke="#000" stroke-width="0.1" textLength="14.8" lengthAdjust="spacingAndGlyphs" >8.5</text>
<text x="191.21" y="501.60" font-size="10.4" font-family='"Liberation Serif", serif' text-anchor="middle" fill="#000" stroke="#000" stroke-width="0.1" textLength="14.8" lengthAdjust="spacingAndGlyphs" >9.0</text>
<text x="250.64" y="501.60" font-size="10.4" font-family='"Liberation Serif", serif' text-anchor="middle" fill="#000" stroke="#000" stroke-width="0.1" textLength="14.8" lengthAdjust="spacingAndGlyphs" >9.5</text>
<line x1="36.70" y1="486.60" x2="38.70" y2="486.60" stroke="#000" stroke-width="0.7" />
<line x1="286.30" y1="486.60" x2="284.30" y2="486.60" stroke="#000" stroke-width="0.7" />
<line x1="36.70" y1="479.58" x2="40.20" y2="479.58" stroke="#000" stroke-width="0.7" />
<line x1="286.30" y1="479.58" x2="282.80" y2="479.58" stroke="#000" stroke-width="0.7" />
<line x1="36.70" y1="472.56" x2="38.70" y2="472.56" stroke="#000" stroke-width="0.7" />
<line x1="286.30" y1="472.56" x2="284.30" y2="472.56" stroke="#000" stroke-width="0.7" />
<line x1="36.70" y1="465.54" x2="38.70" y2="465.54" stroke="#000" stroke-width="0.7" />
<line x1="286.30" y1="465.54" x2="284.30" y2="465.54" stroke="#000" stroke-width="0.7" />
<line x1="36.70" y1="458.53" x2="38.70" y2="458.53" stroke="#000" stroke-width="0.7" />
<line x1="286.30" y1="458.53" x2="284.30" y2="458.53" stroke="#000" stroke-width="0.7" />
<line x1="36.70" y1="451.51" x2="38.70" y2="451.51" stroke="#000" stroke-width="0.7" />
<line x1="286.30" y1="451.51" x2="284.30" y2="451.51" stroke="#000" stroke-width="0.7" />
<line x1="36.70" y1="444.49" x2="40.20" y2="444.49" stroke="#000" stroke-width="0.7" />
<line x1="286.30" y1="444.49" x2="282.80" y2="444.49" stroke="#000" stroke-width="0.7" />
<line x1="36.70" y1="437.47" x2="38.70" y2="437.47" stroke="#000" stroke-width="0.7" />
<line x1="286.30" y1="437.47" x2="284.30" y2="437.47" stroke="#000" stroke-width="0.7" />
<line x1="36.70" y1="430.45" x2="38.70" y2="430.45" stroke="#000" stroke-width="0.7" />
<line x1="286.30" y1="430.45" x2="284.30" y2="430.45" stroke="#000" stroke-width="0.7" />
<line x1="36.70" y1="423.43" x2="38.70" y2="423.43" stroke="#000" stroke-width="0.7" />
<line x1="286.30" y1="423.43" x2="284.30" y2="423.43" stroke="#000" stroke-width="0.7" />
<line x1="36.70" y1="416.41" x2="38.70" y2="416.41" stroke="#000" stroke-width="0.7" />
<line x1="286.30" y1="416.41" x2="284.30" y2="416.41" stroke="#000" stroke-width="0.7" />
<line x1="36.70" y1="409.40" x2="40.20" y2="409.40" stroke="#000" stroke-width="0.7" />
<line x1="286.30" y1="409.40" x2="282.80" y2="409.40" stroke="#000" stroke-width="0.7" />
<line x1="36.70" y1="402.38" x2="38.70" y2="402.38" stroke="#000" stroke-width="0.7" />
<line x1="286.30" y1="402.38" x2="284.30" y2="402.38" stroke="#000" stroke-width="0.7" />
<line x1="36.70" y1="395.36" x2="38.70" y2="395.36" stroke="#000" stroke-width="0.7" />
<line x1="286.30" y1="395.36" x2="284.30" y2="395.36" stroke="#000" stroke-width="0.7" />
<line x1="36.70" y1="388.34" x2="38.70" y2="388.34" stroke="#000" stroke-width="0.7" />
<line x1="286.30" y1="388.34" x2="284.30" y2="388.34" stroke="#000" stroke-width="0.7" />
<line x1="36.70" y1="381.32" x2="38.70" y2="381.32" stroke="#000" stroke-width="0.7" />
<line x1="286.30" y1="381.32" x2="284.30" y2="381.32" stroke="#000" stroke-width="0.7" />
<line x1="36.70" y1="374.30" x2="40.20" y2="374.30" stroke="#000" stroke-width="0.7" />
<line x1="286.30" y1="374.30" x2="282.80" y2="374.30" stroke="#000" stroke-width="0.7" />
<line x1="36.70" y1="367.29" x2="38.70" y2="367.29" stroke="#000" stroke-width="0.7" />
<line x1="286.30" y1="367.29" x2="284.30" y2="367.29" stroke="#000" stroke-width="0.7" />
<line x1="36.70" y1="360.27" x2="38.70" y2="360.27" stroke="#000" stroke-width="0.7" />
<line x1="286.30" y1="360.27" x2="284.30" y2="360.27" stroke="#000" stroke-width="0.7" />
<line x1="36.70" y1="353.25" x2="38.70" y2="353.25" stroke="#000" stroke-width="0.7" />
<line x1="286.30" y1="353.25" x2="284.30" y2="353.25" stroke="#000" stroke-width="0.7" />
<line x1="36.70" y1="346.23" x2="38.70" y2="346.23" stroke="#000" stroke-width="0.7" />
<line x1="286.30" y1="346.23" x2="284.30" y2="346.23" stroke="#000" stroke-width="0.7" />
<line x1="36.70" y1="339.21" x2="40.20" y2="339.21" stroke="#000" stroke-width="0.7" />
<line x1="286.30" y1="339.21" x2="282.80" y2="339.21" stroke="#000" stroke-width="0.7" />
<line x1="36.70" y1="332.19" x2="38.70" y2="332.19" stroke="#000" stroke-width="0.7" />
<line x1="286.30" y1="332.19" x2="284.30" y2="332.19" stroke="#000" stroke-width="0.7" />
<line x1="36.70" y1="325.17" x2="38.70" y2="325.17" stroke="#000" stroke-width="0.7" />
<line x1="286.30" y1="325.17" x2="284.30" y2="325.17" stroke="#000" stroke-width="0.7" />
<line x1="36.70" y1="318.16" x2="38.70" y2="318.16" stroke="#000" stroke-width="0.7" />
<line x1="286.30" y1="318.16" x2="284.30" y2="318.16" stroke="#000" stroke-width="0.7" />
<line x1="36.70" y1="311.14" x2="38.70" y2="311.14" stroke="#000" stroke-width="0.7" />
<line x1="286.30" y1="311.14" x2="284.30" y2="311.14" stroke="#000" stroke-width="0.7" />
<line x1="36.70" y1="304.12" x2="40.20" y2="304.12" stroke="#000" stroke-width="0.7" />
<line x1="286.30" y1="304.12" x2="282.80" y2="304.12" stroke="#000" stroke-width="0.7" />
<line x1="36.70" y1="297.10" x2="38.70" y2="297.10" stroke="#000" stroke-width="0.7" />
<line x1="286.30" y1="297.10" x2="284.30" y2="297.10" stroke="#000" stroke-width="0.7" />
<text x="30.20" y="483.18" font-size="10.4" font-family='"Liberation Serif", serif' text-anchor="end" fill="#000" stroke="#000" stroke-width="0.1" textLength="5.9" lengthAdjust="spacingAndGlyphs" >6</text>
<text x="30.20" y="448.09" font-size="10.4" font-family='"Liberation Serif", serif' text-anchor="end" fill="#000" stroke="#000" stroke-width="0.1" textLength="5.9" lengthAdjust="spacingAndGlyphs" >7</text>
<text x="30.20" y="413.00" font-size="10.4" font-family='"Liberation Serif", serif' text-anchor="end" fill="#000" stroke="#000" stroke-width="0.1" textLength="5.9" lengthAdjust="spacingAndGlyphs" >8</text>
<text x="30.20" y="377.90" font-size="10.4" font-family='"Liberation Serif", serif' text-anchor="end" fill="#000" stroke="#000" stroke-width="0.1" textLength="5.9" lengthAdjust="spacingAndGlyphs" >9</text>
<text x="30.20" y="342.81" font-size="10.4" font-family='"Liberation Serif", serif' text-anchor="end" fill="#000" stroke="#000" stroke-width="0.1" textLength="11.6" lengthAdjust="spacingAndGlyphs" >10</text>
<text x="30.20" y="307.72" font-size="10.4" font-family='"Liberation Serif", serif' text-anchor="end" fill="#000" stroke="#000" stroke-width="0.1" textLength="11.6" lengthAdjust="spacingAndGlyphs" >11</text>
<path d="M53.30,304.40 L54.27,306.66 L56.72,306.89 L54.87,308.51 L55.42,310.91 L53.30,309.66 L51.18,310.91 L51.73,308.51 L49.88,306.89 L52.33,306.66 Z" fill="#ffffff" stroke="#000" stroke-width="0.8" stroke-linejoin="miter"/>
<text x="68.90" y="311.00" font-size="8.8" font-family='"Liberation Serif", serif' text-anchor="start" fill="#000" stroke="#000" stroke-width="0.1" textLength="49.0" lengthAdjust="spacingAndGlyphs" >Pair-Merger</text>
<text x="8.8" y="392" font-size="9.6" font-family='"Liberation Sans", sans-serif' text-anchor="middle" textLength="58" lengthAdjust="spacingAndGlyphs" transform="rotate(-90 8.8 392)"><tspan>log(</tspan><tspan font-style="italic">L</tspan><tspan dy="1.70" font-size="6.6">Hα</tspan><tspan dy="-1.70" dx="1.0">/</tspan><tspan dx="1.0">L</tspan><tspan dy="1.90" font-size="6.4">ʘ</tspan><tspan dy="-1.90">)</tspan></text>
<text x="161.2" y="516.8" font-size="9.6" font-family='"Liberation Sans", sans-serif' text-anchor="middle" textLength="59.6" lengthAdjust="spacingAndGlyphs"><tspan>log(</tspan><tspan font-style="italic">L</tspan><tspan dy="1.70" font-size="6.6">[CII]</tspan><tspan dy="-1.70" dx="1.0">/</tspan><tspan dx="1.0">L</tspan><tspan dy="1.90" font-size="6.4">ʘ</tspan><tspan dy="-1.90">)</tspan></text>
<text x="69.60" y="474.30" font-size="9.8" font-family='"Liberation Serif", serif' text-anchor="start" fill="#000" stroke="#000" stroke-width="0.1" textLength="34.2" lengthAdjust="spacingAndGlyphs" >Calzetti,</text>
<text x="107.5" y="474.3" font-size="9.6" font-family='"Liberation Sans", sans-serif' textLength="31.2" lengthAdjust="spacingAndGlyphs"><tspan font-style="italic">f</tspan> = 0.44</text>
<path d="M301.8,478.0 L310.6,478.0 L306.20000000000005,487.0Z" fill="#fff" stroke="#000" stroke-width="0.7"/>
<rect x="301.8" y="297.3" width="8.800000000000011" height="180.7" fill="url(#cbv)" stroke="#000" stroke-width="0.7"/>
<line x1="310.60" y1="476.60" x2="308.10" y2="476.60" stroke="#000" stroke-width="0.7" />
<text x="313.60" y="479.20" font-size="7.8" font-family='"Liberation Serif", serif' text-anchor="start" fill="#000" stroke="#000" stroke-width="0.1" textLength="17.24" lengthAdjust="spacingAndGlyphs" >&lt;9.5</text>
<line x1="310.60" y1="466.00" x2="308.10" y2="466.00" stroke="#000" stroke-width="0.7" />
<text x="313.60" y="468.60" font-size="7.8" font-family='"Liberation Serif", serif' text-anchor="start" fill="#000" stroke="#000" stroke-width="0.1" textLength="11.29" lengthAdjust="spacingAndGlyphs" >9.6</text>
<line x1="310.60" y1="441.90" x2="308.10" y2="441.90" stroke="#000" stroke-width="0.7" />
<text x="313.60" y="444.50" font-size="7.8" font-family='"Liberation Serif", serif' text-anchor="start" fill="#000" stroke="#000" stroke-width="0.1" textLength="11.29" lengthAdjust="spacingAndGlyphs" >9.8</text>
<line x1="310.60" y1="417.80" x2="308.10" y2="417.80" stroke="#000" stroke-width="0.7" />
<text x="313.60" y="420.40" font-size="7.8" font-family='"Liberation Serif", serif' text-anchor="start" fill="#000" stroke="#000" stroke-width="0.1" textLength="15.8" lengthAdjust="spacingAndGlyphs" >10.0</text>
<line x1="310.60" y1="393.70" x2="308.10" y2="393.70" stroke="#000" stroke-width="0.7" />
<text x="313.60" y="396.30" font-size="7.8" font-family='"Liberation Serif", serif' text-anchor="start" fill="#000" stroke="#000" stroke-width="0.1" textLength="15.8" lengthAdjust="spacingAndGlyphs" >10.2</text>
<line x1="310.60" y1="369.60" x2="308.10" y2="369.60" stroke="#000" stroke-width="0.7" />
<text x="313.60" y="372.20" font-size="7.8" font-family='"Liberation Serif", serif' text-anchor="start" fill="#000" stroke="#000" stroke-width="0.1" textLength="15.8" lengthAdjust="spacingAndGlyphs" >10.4</text>
<line x1="310.60" y1="345.50" x2="308.10" y2="345.50" stroke="#000" stroke-width="0.7" />
<text x="313.60" y="348.10" font-size="7.8" font-family='"Liberation Serif", serif' text-anchor="start" fill="#000" stroke="#000" stroke-width="0.1" textLength="15.8" lengthAdjust="spacingAndGlyphs" >10.6</text>
<line x1="310.60" y1="321.40" x2="308.10" y2="321.40" stroke="#000" stroke-width="0.7" />
<text x="313.60" y="324.00" font-size="7.8" font-family='"Liberation Serif", serif' text-anchor="start" fill="#000" stroke="#000" stroke-width="0.1" textLength="15.8" lengthAdjust="spacingAndGlyphs" >10.8</text>
<line x1="310.60" y1="297.30" x2="308.10" y2="297.30" stroke="#000" stroke-width="0.7" />
<text x="313.60" y="299.90" font-size="7.8" font-family='"Liberation Serif", serif' text-anchor="start" fill="#000" stroke="#000" stroke-width="0.1" textLength="15.8" lengthAdjust="spacingAndGlyphs" >11.0</text>
<text x="342.5" y="393" font-size="9.4" font-family='"Liberation Sans", sans-serif' text-anchor="middle" textLength="51" lengthAdjust="spacingAndGlyphs" transform="rotate(-90 342.5 393)"><tspan>log(</tspan><tspan font-style="italic">M</tspan><tspan dx="1.0">/</tspan><tspan dx="1.0"> M</tspan><tspan dy="1.90" font-size="6.4">ʘ</tspan><tspan dy="-1.90">)</tspan></text>
</svg>
</body></html>
